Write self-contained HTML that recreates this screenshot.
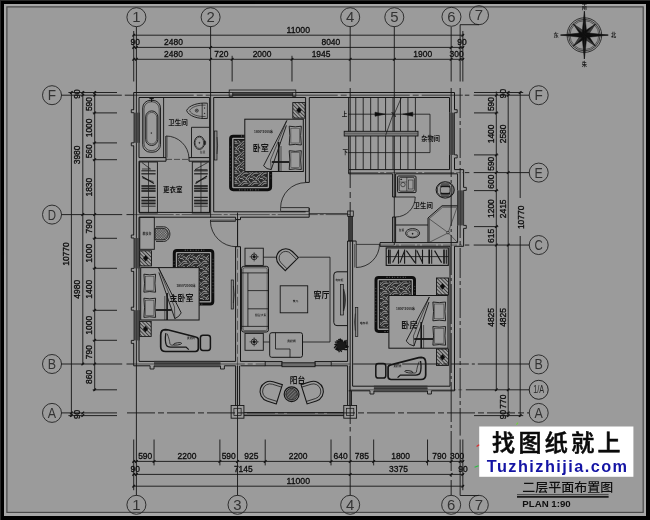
<!DOCTYPE html>
<html><head><meta charset="utf-8"><title>二层平面布置图</title>
<style>
html,body{margin:0;padding:0;background:#9b9b9b;overflow:hidden}
svg{display:block;will-change:transform;opacity:0.9999;font-family:"Liberation Sans","Noto Sans CJK SC",sans-serif}
</style></head><body>
<svg width="650" height="520" viewBox="0 0 650 520">
<rect x="0" y="0" width="650" height="520" fill="#9b9b9b"/>
<path d="M0 0H650V520H0Z M4 4V516H646V4Z" fill="#000" stroke="none" stroke-width="0" fill-rule="evenodd"/>
<path d="M0 0H650V520H0Z M1 1V520H650V1Z" fill="#2b2b2b" stroke="none" stroke-width="0" fill-rule="evenodd"/>
<path d="M4 4H646V516H4Z M6.3 6.3V512.2H643.2V6.3Z" fill="#a8a8a8" stroke="none" stroke-width="0" fill-rule="evenodd"/>
<rect x="6.9" y="6.9" width="636.3" height="505.5" fill="none" stroke="#4a4a4a" stroke-width="1.2"/>
<line x1="132.71" y1="35.2" x2="463.83" y2="35.2" stroke="#151515" stroke-width="0.9"/>
<line x1="132.71" y1="47.4" x2="463.83" y2="47.4" stroke="#151515" stroke-width="0.9"/>
<line x1="132.71" y1="59.3" x2="463.83" y2="59.3" stroke="#151515" stroke-width="0.9"/>
<line x1="132.41" y1="36.5" x2="135.01" y2="33.9" stroke="#151515" stroke-width="1.3"/>
<line x1="132.41" y1="48.7" x2="135.01" y2="46.1" stroke="#151515" stroke-width="1.3"/>
<line x1="461.53" y1="36.5" x2="464.13" y2="33.9" stroke="#151515" stroke-width="1.3"/>
<line x1="461.53" y1="48.7" x2="464.13" y2="46.1" stroke="#151515" stroke-width="1.3"/>
<line x1="135.1" y1="48.7" x2="137.7" y2="46.1" stroke="#151515" stroke-width="1.3"/>
<line x1="209.3" y1="48.7" x2="211.9" y2="46.1" stroke="#151515" stroke-width="1.3"/>
<line x1="449.86" y1="48.7" x2="452.46" y2="46.1" stroke="#151515" stroke-width="1.3"/>
<line x1="458.83" y1="48.7" x2="461.43" y2="46.1" stroke="#151515" stroke-width="1.3"/>
<line x1="135.1" y1="60.6" x2="137.7" y2="58" stroke="#151515" stroke-width="1.3"/>
<line x1="209.3" y1="60.6" x2="211.9" y2="58" stroke="#151515" stroke-width="1.3"/>
<line x1="230.84" y1="60.6" x2="233.44" y2="58" stroke="#151515" stroke-width="1.3"/>
<line x1="290.68" y1="60.6" x2="293.28" y2="58" stroke="#151515" stroke-width="1.3"/>
<line x1="348.88" y1="60.6" x2="351.48" y2="58" stroke="#151515" stroke-width="1.3"/>
<line x1="393.01" y1="60.6" x2="395.61" y2="58" stroke="#151515" stroke-width="1.3"/>
<line x1="449.86" y1="60.6" x2="452.46" y2="58" stroke="#151515" stroke-width="1.3"/>
<line x1="458.83" y1="60.6" x2="461.43" y2="58" stroke="#151515" stroke-width="1.3"/>
<line x1="132.41" y1="60.6" x2="135.01" y2="58" stroke="#151515" stroke-width="1.3"/>
<line x1="461.53" y1="60.6" x2="464.13" y2="58" stroke="#151515" stroke-width="1.3"/>
<text stroke="#0c0c0c" stroke-width="0.32" x="298.27" y="32.8" font-size="9.7" text-anchor="middle" fill="#0c0c0c" textLength="23.5" lengthAdjust="spacingAndGlyphs">11000</text>
<text stroke="#0c0c0c" stroke-width="0.32" x="135.21" y="45" font-size="9.7" text-anchor="middle" fill="#0c0c0c" textLength="9.4" lengthAdjust="spacingAndGlyphs">90</text>
<text stroke="#0c0c0c" stroke-width="0.32" x="173.5" y="45" font-size="9.7" text-anchor="middle" fill="#0c0c0c" textLength="18.8" lengthAdjust="spacingAndGlyphs">2480</text>
<text stroke="#0c0c0c" stroke-width="0.32" x="330.88" y="45" font-size="9.7" text-anchor="middle" fill="#0c0c0c" textLength="18.8" lengthAdjust="spacingAndGlyphs">8040</text>
<text stroke="#0c0c0c" stroke-width="0.32" x="462.03" y="44.8" font-size="9.7" text-anchor="middle" fill="#0c0c0c" textLength="9.4" lengthAdjust="spacingAndGlyphs">90</text>
<text stroke="#0c0c0c" stroke-width="0.32" x="173.5" y="56.9" font-size="9.7" text-anchor="middle" fill="#0c0c0c" textLength="18.8" lengthAdjust="spacingAndGlyphs">2480</text>
<text stroke="#0c0c0c" stroke-width="0.32" x="221.37" y="56.9" font-size="9.7" text-anchor="middle" fill="#0c0c0c" textLength="14.1" lengthAdjust="spacingAndGlyphs">720</text>
<text stroke="#0c0c0c" stroke-width="0.32" x="262.06" y="56.9" font-size="9.7" text-anchor="middle" fill="#0c0c0c" textLength="18.8" lengthAdjust="spacingAndGlyphs">2000</text>
<text stroke="#0c0c0c" stroke-width="0.32" x="321.08" y="56.9" font-size="9.7" text-anchor="middle" fill="#0c0c0c" textLength="18.8" lengthAdjust="spacingAndGlyphs">1945</text>
<text stroke="#0c0c0c" stroke-width="0.32" x="422.73" y="56.9" font-size="9.7" text-anchor="middle" fill="#0c0c0c" textLength="18.8" lengthAdjust="spacingAndGlyphs">1900</text>
<text stroke="#0c0c0c" stroke-width="0.32" x="456.56" y="56.9" font-size="9.7" text-anchor="middle" fill="#0c0c0c" textLength="14.1" lengthAdjust="spacingAndGlyphs">300</text>
<line x1="232.14" y1="55.8" x2="232.14" y2="81.5" stroke="#151515" stroke-width="0.9"/>
<line x1="291.98" y1="55.8" x2="291.98" y2="81.5" stroke="#151515" stroke-width="0.9"/>
<line x1="133.71" y1="31" x2="133.71" y2="81.5" stroke="#151515" stroke-width="0.9"/>
<line x1="462.83" y1="31" x2="462.83" y2="81.5" stroke="#151515" stroke-width="0.9"/>
<line x1="132.71" y1="461.4" x2="463.83" y2="461.4" stroke="#151515" stroke-width="0.9"/>
<line x1="132.71" y1="474.4" x2="463.83" y2="474.4" stroke="#151515" stroke-width="0.9"/>
<line x1="132.71" y1="486.2" x2="463.83" y2="486.2" stroke="#151515" stroke-width="0.9"/>
<line x1="135.1" y1="462.7" x2="137.7" y2="460.1" stroke="#151515" stroke-width="1.3"/>
<line x1="152.75" y1="462.7" x2="155.35" y2="460.1" stroke="#151515" stroke-width="1.3"/>
<line x1="218.58" y1="462.7" x2="221.18" y2="460.1" stroke="#151515" stroke-width="1.3"/>
<line x1="236.23" y1="462.7" x2="238.83" y2="460.1" stroke="#151515" stroke-width="1.3"/>
<line x1="263.91" y1="462.7" x2="266.51" y2="460.1" stroke="#151515" stroke-width="1.3"/>
<line x1="329.73" y1="462.7" x2="332.33" y2="460.1" stroke="#151515" stroke-width="1.3"/>
<line x1="348.88" y1="462.7" x2="351.48" y2="460.1" stroke="#151515" stroke-width="1.3"/>
<line x1="372.37" y1="462.7" x2="374.97" y2="460.1" stroke="#151515" stroke-width="1.3"/>
<line x1="426.22" y1="462.7" x2="428.82" y2="460.1" stroke="#151515" stroke-width="1.3"/>
<line x1="449.86" y1="462.7" x2="452.46" y2="460.1" stroke="#151515" stroke-width="1.3"/>
<line x1="458.83" y1="462.7" x2="461.43" y2="460.1" stroke="#151515" stroke-width="1.3"/>
<line x1="132.41" y1="475.7" x2="135.01" y2="473.1" stroke="#151515" stroke-width="1.3"/>
<line x1="135.1" y1="475.7" x2="137.7" y2="473.1" stroke="#151515" stroke-width="1.3"/>
<line x1="348.88" y1="475.7" x2="351.48" y2="473.1" stroke="#151515" stroke-width="1.3"/>
<line x1="449.86" y1="475.7" x2="452.46" y2="473.1" stroke="#151515" stroke-width="1.3"/>
<line x1="461.53" y1="475.7" x2="464.13" y2="473.1" stroke="#151515" stroke-width="1.3"/>
<line x1="132.41" y1="462.7" x2="135.01" y2="460.1" stroke="#151515" stroke-width="1.3"/>
<line x1="132.41" y1="487.5" x2="135.01" y2="484.9" stroke="#151515" stroke-width="1.3"/>
<line x1="461.53" y1="462.7" x2="464.13" y2="460.1" stroke="#151515" stroke-width="1.3"/>
<line x1="461.53" y1="487.5" x2="464.13" y2="484.9" stroke="#151515" stroke-width="1.3"/>
<text stroke="#0c0c0c" stroke-width="0.32" x="145.23" y="459.2" font-size="9.7" text-anchor="middle" fill="#0c0c0c" textLength="14.1" lengthAdjust="spacingAndGlyphs">590</text>
<text stroke="#0c0c0c" stroke-width="0.32" x="186.96" y="459.2" font-size="9.7" text-anchor="middle" fill="#0c0c0c" textLength="18.8" lengthAdjust="spacingAndGlyphs">2200</text>
<text stroke="#0c0c0c" stroke-width="0.32" x="228.7" y="459.2" font-size="9.7" text-anchor="middle" fill="#0c0c0c" textLength="14.1" lengthAdjust="spacingAndGlyphs">590</text>
<text stroke="#0c0c0c" stroke-width="0.32" x="251.37" y="459.2" font-size="9.7" text-anchor="middle" fill="#0c0c0c" textLength="14.1" lengthAdjust="spacingAndGlyphs">925</text>
<text stroke="#0c0c0c" stroke-width="0.32" x="298.12" y="459.2" font-size="9.7" text-anchor="middle" fill="#0c0c0c" textLength="18.8" lengthAdjust="spacingAndGlyphs">2200</text>
<text stroke="#0c0c0c" stroke-width="0.32" x="340.6" y="459.2" font-size="9.7" text-anchor="middle" fill="#0c0c0c" textLength="14.1" lengthAdjust="spacingAndGlyphs">640</text>
<text stroke="#0c0c0c" stroke-width="0.32" x="361.92" y="459.2" font-size="9.7" text-anchor="middle" fill="#0c0c0c" textLength="14.1" lengthAdjust="spacingAndGlyphs">785</text>
<text stroke="#0c0c0c" stroke-width="0.32" x="400.59" y="459.2" font-size="9.7" text-anchor="middle" fill="#0c0c0c" textLength="18.8" lengthAdjust="spacingAndGlyphs">1800</text>
<text stroke="#0c0c0c" stroke-width="0.32" x="439.34" y="459.2" font-size="9.7" text-anchor="middle" fill="#0c0c0c" textLength="14.1" lengthAdjust="spacingAndGlyphs">790</text>
<text stroke="#0c0c0c" stroke-width="0.32" x="457.15" y="459.2" font-size="9.7" text-anchor="middle" fill="#0c0c0c" textLength="14.1" lengthAdjust="spacingAndGlyphs">300</text>
<line x1="154.05" y1="439.5" x2="154.05" y2="465.4" stroke="#151515" stroke-width="0.9"/>
<line x1="219.88" y1="439.5" x2="219.88" y2="465.4" stroke="#151515" stroke-width="0.9"/>
<line x1="265.21" y1="439.5" x2="265.21" y2="465.4" stroke="#151515" stroke-width="0.9"/>
<line x1="331.03" y1="439.5" x2="331.03" y2="465.4" stroke="#151515" stroke-width="0.9"/>
<line x1="373.67" y1="439.5" x2="373.67" y2="465.4" stroke="#151515" stroke-width="0.9"/>
<line x1="427.52" y1="439.5" x2="427.52" y2="465.4" stroke="#151515" stroke-width="0.9"/>
<line x1="133.71" y1="439.5" x2="133.71" y2="490.2" stroke="#151515" stroke-width="0.9"/>
<line x1="462.83" y1="439.5" x2="462.83" y2="490.2" stroke="#151515" stroke-width="0.9"/>
<text stroke="#0c0c0c" stroke-width="0.32" x="135.21" y="472" font-size="9.7" text-anchor="middle" fill="#0c0c0c" textLength="9.4" lengthAdjust="spacingAndGlyphs">90</text>
<text stroke="#0c0c0c" stroke-width="0.32" x="243.29" y="472" font-size="9.7" text-anchor="middle" fill="#0c0c0c" textLength="18.8" lengthAdjust="spacingAndGlyphs">7145</text>
<text stroke="#0c0c0c" stroke-width="0.32" x="398.47" y="472" font-size="9.7" text-anchor="middle" fill="#0c0c0c" textLength="18.8" lengthAdjust="spacingAndGlyphs">3375</text>
<text stroke="#0c0c0c" stroke-width="0.32" x="298.27" y="483.8" font-size="9.7" text-anchor="middle" fill="#0c0c0c" textLength="23.5" lengthAdjust="spacingAndGlyphs">11000</text>
<text stroke="#0c0c0c" stroke-width="0.32" x="463.03" y="472.2" font-size="9.7" text-anchor="middle" fill="#0c0c0c" textLength="9.4" lengthAdjust="spacingAndGlyphs">90</text>
<line x1="71.4" y1="91.5" x2="71.4" y2="416.6" stroke="#151515" stroke-width="0.9"/>
<line x1="82.8" y1="91.5" x2="82.8" y2="365" stroke="#151515" stroke-width="0.9"/>
<line x1="94.7" y1="91.5" x2="94.7" y2="390.8" stroke="#151515" stroke-width="0.9"/>
<line x1="93.4" y1="96.5" x2="96" y2="93.9" stroke="#151515" stroke-width="1.3"/>
<line x1="93.4" y1="114.2" x2="96" y2="111.6" stroke="#151515" stroke-width="1.3"/>
<line x1="93.4" y1="144.2" x2="96" y2="141.6" stroke="#151515" stroke-width="1.3"/>
<line x1="93.4" y1="161" x2="96" y2="158.4" stroke="#151515" stroke-width="1.3"/>
<line x1="93.4" y1="215.9" x2="96" y2="213.3" stroke="#151515" stroke-width="1.3"/>
<line x1="93.4" y1="239.6" x2="96" y2="237" stroke="#151515" stroke-width="1.3"/>
<line x1="93.4" y1="269.6" x2="96" y2="267" stroke="#151515" stroke-width="1.3"/>
<line x1="93.4" y1="311.6" x2="96" y2="309" stroke="#151515" stroke-width="1.3"/>
<line x1="93.4" y1="341.6" x2="96" y2="339" stroke="#151515" stroke-width="1.3"/>
<line x1="93.4" y1="365.3" x2="96" y2="362.7" stroke="#151515" stroke-width="1.3"/>
<line x1="93.4" y1="391.1" x2="96" y2="388.5" stroke="#151515" stroke-width="1.3"/>
<line x1="81.5" y1="93.8" x2="84.1" y2="91.2" stroke="#151515" stroke-width="1.3"/>
<line x1="81.5" y1="96.5" x2="84.1" y2="93.9" stroke="#151515" stroke-width="1.3"/>
<line x1="81.5" y1="215.9" x2="84.1" y2="213.3" stroke="#151515" stroke-width="1.3"/>
<line x1="81.5" y1="365.3" x2="84.1" y2="362.7" stroke="#151515" stroke-width="1.3"/>
<line x1="70.1" y1="93.8" x2="72.7" y2="91.2" stroke="#151515" stroke-width="1.3"/>
<line x1="70.1" y1="414.2" x2="72.7" y2="411.6" stroke="#151515" stroke-width="1.3"/>
<line x1="70.1" y1="416.9" x2="72.7" y2="414.3" stroke="#151515" stroke-width="1.3"/>
<line x1="81.5" y1="414.2" x2="84.1" y2="411.6" stroke="#151515" stroke-width="1.3"/>
<line x1="81.5" y1="416.9" x2="84.1" y2="414.3" stroke="#151515" stroke-width="1.3"/>
<line x1="93.4" y1="93.8" x2="96" y2="91.2" stroke="#151515" stroke-width="1.3"/>
<text stroke="#0c0c0c" stroke-width="0.32" x="92.3" y="104.05" font-size="9.7" text-anchor="middle" fill="#0c0c0c" transform="rotate(-90 92.3 104.05)" textLength="14.1" lengthAdjust="spacingAndGlyphs">590</text>
<text stroke="#0c0c0c" stroke-width="0.32" x="92.3" y="127.9" font-size="9.7" text-anchor="middle" fill="#0c0c0c" transform="rotate(-90 92.3 127.9)" textLength="18.8" lengthAdjust="spacingAndGlyphs">1000</text>
<text stroke="#0c0c0c" stroke-width="0.32" x="92.3" y="151.3" font-size="9.7" text-anchor="middle" fill="#0c0c0c" transform="rotate(-90 92.3 151.3)" textLength="14.1" lengthAdjust="spacingAndGlyphs">560</text>
<text stroke="#0c0c0c" stroke-width="0.32" x="92.3" y="187.15" font-size="9.7" text-anchor="middle" fill="#0c0c0c" transform="rotate(-90 92.3 187.15)" textLength="18.8" lengthAdjust="spacingAndGlyphs">1830</text>
<text stroke="#0c0c0c" stroke-width="0.32" x="92.3" y="226.45" font-size="9.7" text-anchor="middle" fill="#0c0c0c" transform="rotate(-90 92.3 226.45)" textLength="14.1" lengthAdjust="spacingAndGlyphs">790</text>
<text stroke="#0c0c0c" stroke-width="0.32" x="92.3" y="253.3" font-size="9.7" text-anchor="middle" fill="#0c0c0c" transform="rotate(-90 92.3 253.3)" textLength="18.8" lengthAdjust="spacingAndGlyphs">1000</text>
<text stroke="#0c0c0c" stroke-width="0.32" x="92.3" y="289.3" font-size="9.7" text-anchor="middle" fill="#0c0c0c" transform="rotate(-90 92.3 289.3)" textLength="18.8" lengthAdjust="spacingAndGlyphs">1400</text>
<text stroke="#0c0c0c" stroke-width="0.32" x="92.3" y="325.3" font-size="9.7" text-anchor="middle" fill="#0c0c0c" transform="rotate(-90 92.3 325.3)" textLength="18.8" lengthAdjust="spacingAndGlyphs">1000</text>
<text stroke="#0c0c0c" stroke-width="0.32" x="92.3" y="352.15" font-size="9.7" text-anchor="middle" fill="#0c0c0c" transform="rotate(-90 92.3 352.15)" textLength="14.1" lengthAdjust="spacingAndGlyphs">790</text>
<text stroke="#0c0c0c" stroke-width="0.32" x="92.3" y="376.9" font-size="9.7" text-anchor="middle" fill="#0c0c0c" transform="rotate(-90 92.3 376.9)" textLength="14.1" lengthAdjust="spacingAndGlyphs">860</text>
<line x1="92.7" y1="112.9" x2="117" y2="112.9" stroke="#151515" stroke-width="0.9"/>
<line x1="92.7" y1="142.9" x2="117" y2="142.9" stroke="#151515" stroke-width="0.9"/>
<line x1="92.7" y1="159.7" x2="117" y2="159.7" stroke="#151515" stroke-width="0.9"/>
<line x1="92.7" y1="238.3" x2="117" y2="238.3" stroke="#151515" stroke-width="0.9"/>
<line x1="92.7" y1="268.3" x2="117" y2="268.3" stroke="#151515" stroke-width="0.9"/>
<line x1="92.7" y1="310.3" x2="117" y2="310.3" stroke="#151515" stroke-width="0.9"/>
<line x1="92.7" y1="340.3" x2="117" y2="340.3" stroke="#151515" stroke-width="0.9"/>
<line x1="92.7" y1="389.8" x2="117" y2="389.8" stroke="#151515" stroke-width="0.9"/>
<text stroke="#0c0c0c" stroke-width="0.32" x="80.4" y="154.9" font-size="9.7" text-anchor="middle" fill="#0c0c0c" transform="rotate(-90 80.4 154.9)" textLength="18.8" lengthAdjust="spacingAndGlyphs">3980</text>
<text stroke="#0c0c0c" stroke-width="0.32" x="80.4" y="289.3" font-size="9.7" text-anchor="middle" fill="#0c0c0c" transform="rotate(-90 80.4 289.3)" textLength="18.8" lengthAdjust="spacingAndGlyphs">4980</text>
<text stroke="#0c0c0c" stroke-width="0.32" x="69" y="254.05" font-size="9.7" text-anchor="middle" fill="#0c0c0c" transform="rotate(-90 69 254.05)" textLength="23.5" lengthAdjust="spacingAndGlyphs">10770</text>
<text stroke="#0c0c0c" stroke-width="0.32" x="80.2" y="94" font-size="9.7" text-anchor="middle" fill="#0c0c0c" transform="rotate(-90 80.2 94)" textLength="9.4" lengthAdjust="spacingAndGlyphs">90</text>
<text stroke="#0c0c0c" stroke-width="0.32" x="80.2" y="414.4" font-size="9.7" text-anchor="middle" fill="#0c0c0c" transform="rotate(-90 80.2 414.4)" textLength="9.4" lengthAdjust="spacingAndGlyphs">90</text>
<line x1="68.4" y1="92.5" x2="117" y2="92.5" stroke="#151515" stroke-width="0.9"/>
<line x1="68.4" y1="415.6" x2="117" y2="415.6" stroke="#151515" stroke-width="0.9"/>
<line x1="496.3" y1="91.5" x2="496.3" y2="390.8" stroke="#151515" stroke-width="0.9"/>
<line x1="508.2" y1="91.5" x2="508.2" y2="416.6" stroke="#151515" stroke-width="0.9"/>
<line x1="520.2" y1="91.5" x2="520.2" y2="198" stroke="#151515" stroke-width="0.9"/>
<line x1="520.2" y1="236" x2="520.2" y2="416.6" stroke="#151515" stroke-width="0.9"/>
<line x1="495" y1="96.5" x2="497.6" y2="93.9" stroke="#151515" stroke-width="1.3"/>
<line x1="495" y1="114.2" x2="497.6" y2="111.6" stroke="#151515" stroke-width="1.3"/>
<line x1="495" y1="156.2" x2="497.6" y2="153.6" stroke="#151515" stroke-width="1.3"/>
<line x1="495" y1="173.9" x2="497.6" y2="171.3" stroke="#151515" stroke-width="1.3"/>
<line x1="495" y1="191.9" x2="497.6" y2="189.3" stroke="#151515" stroke-width="1.3"/>
<line x1="495" y1="227.9" x2="497.6" y2="225.3" stroke="#151515" stroke-width="1.3"/>
<line x1="495" y1="246.35" x2="497.6" y2="243.75" stroke="#151515" stroke-width="1.3"/>
<line x1="495" y1="391.1" x2="497.6" y2="388.5" stroke="#151515" stroke-width="1.3"/>
<line x1="506.9" y1="93.8" x2="509.5" y2="91.2" stroke="#151515" stroke-width="1.3"/>
<line x1="506.9" y1="96.5" x2="509.5" y2="93.9" stroke="#151515" stroke-width="1.3"/>
<line x1="506.9" y1="173.9" x2="509.5" y2="171.3" stroke="#151515" stroke-width="1.3"/>
<line x1="506.9" y1="246.35" x2="509.5" y2="243.75" stroke="#151515" stroke-width="1.3"/>
<line x1="506.9" y1="391.1" x2="509.5" y2="388.5" stroke="#151515" stroke-width="1.3"/>
<line x1="506.9" y1="414.2" x2="509.5" y2="411.6" stroke="#151515" stroke-width="1.3"/>
<line x1="506.9" y1="416.9" x2="509.5" y2="414.3" stroke="#151515" stroke-width="1.3"/>
<line x1="518.9" y1="93.8" x2="521.5" y2="91.2" stroke="#151515" stroke-width="1.3"/>
<line x1="518.9" y1="416.9" x2="521.5" y2="414.3" stroke="#151515" stroke-width="1.3"/>
<text stroke="#0c0c0c" stroke-width="0.32" x="493.9" y="104.05" font-size="9.7" text-anchor="middle" fill="#0c0c0c" transform="rotate(-90 493.9 104.05)" textLength="14.1" lengthAdjust="spacingAndGlyphs">590</text>
<text stroke="#0c0c0c" stroke-width="0.32" x="493.9" y="133.9" font-size="9.7" text-anchor="middle" fill="#0c0c0c" transform="rotate(-90 493.9 133.9)" textLength="18.8" lengthAdjust="spacingAndGlyphs">1400</text>
<text stroke="#0c0c0c" stroke-width="0.32" x="493.9" y="163.75" font-size="9.7" text-anchor="middle" fill="#0c0c0c" transform="rotate(-90 493.9 163.75)" textLength="14.1" lengthAdjust="spacingAndGlyphs">590</text>
<text stroke="#0c0c0c" stroke-width="0.32" x="493.9" y="181.6" font-size="9.7" text-anchor="middle" fill="#0c0c0c" transform="rotate(-90 493.9 181.6)" textLength="14.1" lengthAdjust="spacingAndGlyphs">600</text>
<text stroke="#0c0c0c" stroke-width="0.32" x="493.9" y="208.6" font-size="9.7" text-anchor="middle" fill="#0c0c0c" transform="rotate(-90 493.9 208.6)" textLength="18.8" lengthAdjust="spacingAndGlyphs">1200</text>
<text stroke="#0c0c0c" stroke-width="0.32" x="493.9" y="235.82" font-size="9.7" text-anchor="middle" fill="#0c0c0c" transform="rotate(-90 493.9 235.82)" textLength="14.1" lengthAdjust="spacingAndGlyphs">615</text>
<text stroke="#0c0c0c" stroke-width="0.32" x="493.9" y="317.42" font-size="9.7" text-anchor="middle" fill="#0c0c0c" transform="rotate(-90 493.9 317.42)" textLength="18.8" lengthAdjust="spacingAndGlyphs">4825</text>
<line x1="474" y1="112.9" x2="498.3" y2="112.9" stroke="#151515" stroke-width="0.9"/>
<line x1="474" y1="154.9" x2="498.3" y2="154.9" stroke="#151515" stroke-width="0.9"/>
<line x1="474" y1="190.6" x2="498.3" y2="190.6" stroke="#151515" stroke-width="0.9"/>
<line x1="474" y1="226.6" x2="498.3" y2="226.6" stroke="#151515" stroke-width="0.9"/>
<text stroke="#0c0c0c" stroke-width="0.32" x="505.8" y="133.9" font-size="9.7" text-anchor="middle" fill="#0c0c0c" transform="rotate(-90 505.8 133.9)" textLength="18.8" lengthAdjust="spacingAndGlyphs">2580</text>
<text stroke="#0c0c0c" stroke-width="0.32" x="505.8" y="208.82" font-size="9.7" text-anchor="middle" fill="#0c0c0c" transform="rotate(-90 505.8 208.82)" textLength="18.8" lengthAdjust="spacingAndGlyphs">2415</text>
<text stroke="#0c0c0c" stroke-width="0.32" x="505.8" y="317.42" font-size="9.7" text-anchor="middle" fill="#0c0c0c" transform="rotate(-90 505.8 317.42)" textLength="18.8" lengthAdjust="spacingAndGlyphs">4825</text>
<text stroke="#0c0c0c" stroke-width="0.32" x="523.6" y="217.32" font-size="9.7" text-anchor="middle" fill="#0c0c0c" transform="rotate(-90 523.6 217.32)" textLength="23.5" lengthAdjust="spacingAndGlyphs">10770</text>
<text stroke="#0c0c0c" stroke-width="0.32" x="505.6" y="93.5" font-size="9.7" text-anchor="middle" fill="#0c0c0c" transform="rotate(-90 505.6 93.5)" textLength="9.4" lengthAdjust="spacingAndGlyphs">90</text>
<text stroke="#0c0c0c" stroke-width="0.32" x="506" y="401.65" font-size="9.7" text-anchor="middle" fill="#0c0c0c" transform="rotate(-90 506 401.65)" textLength="14.1" lengthAdjust="spacingAndGlyphs">770</text>
<text stroke="#0c0c0c" stroke-width="0.32" x="506" y="414.5" font-size="9.7" text-anchor="middle" fill="#0c0c0c" transform="rotate(-90 506 414.5)" textLength="9.4" lengthAdjust="spacingAndGlyphs">90</text>
<line x1="474" y1="92.5" x2="523.2" y2="92.5" stroke="#151515" stroke-width="0.9"/>
<line x1="474" y1="415.6" x2="523.2" y2="415.6" stroke="#151515" stroke-width="0.9"/>
<circle cx="136.4" cy="17.2" r="9.5" fill="none" stroke="#222" stroke-width="0.9"/>
<text x="136.4" y="22.17" font-size="14" text-anchor="middle" fill="#333" textLength="8.3" lengthAdjust="spacingAndGlyphs">1</text>
<circle cx="210.6" cy="17.2" r="9.5" fill="none" stroke="#222" stroke-width="0.9"/>
<text x="210.6" y="22.17" font-size="14" text-anchor="middle" fill="#333" textLength="8.3" lengthAdjust="spacingAndGlyphs">2</text>
<circle cx="350.18" cy="17.2" r="9.5" fill="none" stroke="#222" stroke-width="0.9"/>
<text x="350.18" y="22.17" font-size="14" text-anchor="middle" fill="#333" textLength="8.3" lengthAdjust="spacingAndGlyphs">4</text>
<circle cx="394.31" cy="17.2" r="9.5" fill="none" stroke="#222" stroke-width="0.9"/>
<text x="394.31" y="22.17" font-size="14" text-anchor="middle" fill="#333" textLength="8.3" lengthAdjust="spacingAndGlyphs">5</text>
<circle cx="451.46" cy="16.8" r="9.5" fill="none" stroke="#222" stroke-width="0.9"/>
<text x="451.46" y="21.77" font-size="14" text-anchor="middle" fill="#333" textLength="8.3" lengthAdjust="spacingAndGlyphs">6</text>
<circle cx="479" cy="15.2" r="9.5" fill="none" stroke="#222" stroke-width="0.9"/>
<text x="479" y="20.17" font-size="14" text-anchor="middle" fill="#333" textLength="8.3" lengthAdjust="spacingAndGlyphs">7</text>
<circle cx="136.4" cy="504.8" r="9.5" fill="none" stroke="#222" stroke-width="0.9"/>
<text x="136.4" y="509.77" font-size="14" text-anchor="middle" fill="#333" textLength="8.3" lengthAdjust="spacingAndGlyphs">1</text>
<circle cx="237.53" cy="504.8" r="9.5" fill="none" stroke="#222" stroke-width="0.9"/>
<text x="237.53" y="509.77" font-size="14" text-anchor="middle" fill="#333" textLength="8.3" lengthAdjust="spacingAndGlyphs">3</text>
<circle cx="350.18" cy="504.8" r="9.5" fill="none" stroke="#222" stroke-width="0.9"/>
<text x="350.18" y="509.77" font-size="14" text-anchor="middle" fill="#333" textLength="8.3" lengthAdjust="spacingAndGlyphs">4</text>
<circle cx="451.16" cy="504.8" r="9.5" fill="none" stroke="#222" stroke-width="0.9"/>
<text x="451.16" y="509.77" font-size="14" text-anchor="middle" fill="#333" textLength="8.3" lengthAdjust="spacingAndGlyphs">6</text>
<circle cx="478.8" cy="504.8" r="9.5" fill="none" stroke="#222" stroke-width="0.9"/>
<text x="478.8" y="509.77" font-size="14" text-anchor="middle" fill="#333" textLength="8.3" lengthAdjust="spacingAndGlyphs">7</text>
<circle cx="52" cy="95.2" r="9.5" fill="none" stroke="#222" stroke-width="0.9"/>
<text x="52" y="100.17" font-size="14" text-anchor="middle" fill="#333" textLength="8.3" lengthAdjust="spacingAndGlyphs">F</text>
<circle cx="52" cy="214.6" r="9.5" fill="none" stroke="#222" stroke-width="0.9"/>
<text x="52" y="219.57" font-size="14" text-anchor="middle" fill="#333" textLength="8.3" lengthAdjust="spacingAndGlyphs">D</text>
<circle cx="52" cy="364" r="9.5" fill="none" stroke="#222" stroke-width="0.9"/>
<text x="52" y="368.97" font-size="14" text-anchor="middle" fill="#333" textLength="8.3" lengthAdjust="spacingAndGlyphs">B</text>
<circle cx="52" cy="412.9" r="9.5" fill="none" stroke="#222" stroke-width="0.9"/>
<text x="52" y="417.87" font-size="14" text-anchor="middle" fill="#333" textLength="8.3" lengthAdjust="spacingAndGlyphs">A</text>
<circle cx="538.7" cy="95.2" r="9.5" fill="none" stroke="#222" stroke-width="0.9"/>
<text x="538.7" y="100.17" font-size="14" text-anchor="middle" fill="#333" textLength="8.3" lengthAdjust="spacingAndGlyphs">F</text>
<circle cx="538.7" cy="172.6" r="9.5" fill="none" stroke="#222" stroke-width="0.9"/>
<text x="538.7" y="177.57" font-size="14" text-anchor="middle" fill="#333" textLength="8.3" lengthAdjust="spacingAndGlyphs">E</text>
<circle cx="538.7" cy="245.05" r="9.5" fill="none" stroke="#222" stroke-width="0.9"/>
<text x="538.7" y="250.02" font-size="14" text-anchor="middle" fill="#333" textLength="8.3" lengthAdjust="spacingAndGlyphs">C</text>
<circle cx="538.7" cy="364.4" r="9.5" fill="none" stroke="#222" stroke-width="0.9"/>
<text x="538.7" y="369.37" font-size="14" text-anchor="middle" fill="#333" textLength="8.3" lengthAdjust="spacingAndGlyphs">B</text>
<circle cx="538.7" cy="412.9" r="9.5" fill="none" stroke="#222" stroke-width="0.9"/>
<text x="538.7" y="417.87" font-size="14" text-anchor="middle" fill="#333" textLength="8.3" lengthAdjust="spacingAndGlyphs">A</text>
<circle cx="538.7" cy="389.8" r="9.5" fill="none" stroke="#151515" stroke-width="0.9"/>
<text x="538.7" y="393.4" font-size="10" text-anchor="middle" fill="#2a2a2a" textLength="11" lengthAdjust="spacingAndGlyphs">1/A</text>
<line x1="136.4" y1="26.7" x2="136.4" y2="495.5" stroke="#151515" stroke-width="0.9"/>
<line x1="210.6" y1="26.5" x2="210.6" y2="217.6" stroke="#151515" stroke-width="0.9"/>
<line x1="237.53" y1="495.5" x2="237.53" y2="365.8" stroke="#151515" stroke-width="0.9"/>
<line x1="237.53" y1="365.8" x2="237.53" y2="246.7" stroke="#151515" stroke-width="0.9" stroke-dasharray="9 3" stroke-opacity="0.55"/>
<line x1="237.53" y1="246.7" x2="237.53" y2="212.6" stroke="#151515" stroke-width="0.9"/>
<line x1="350.18" y1="26.5" x2="350.18" y2="81.5" stroke="#151515" stroke-width="0.9"/>
<line x1="350.18" y1="88" x2="350.18" y2="211" stroke="#151515" stroke-width="0.9" stroke-dasharray="100 4 6 4"/>
<line x1="350.18" y1="211" x2="350.18" y2="424" stroke="#151515" stroke-width="0.9"/>
<line x1="350.18" y1="427" x2="350.18" y2="431.5" stroke="#151515" stroke-width="0.9"/>
<line x1="350.18" y1="436" x2="350.18" y2="495.5" stroke="#151515" stroke-width="0.9"/>
<line x1="394.31" y1="26.5" x2="394.31" y2="245.05" stroke="#151515" stroke-width="0.9"/>
<line x1="451.16" y1="26.9" x2="451.16" y2="81.5" stroke="#151515" stroke-width="0.9"/>
<line x1="451.16" y1="88" x2="451.16" y2="495.5" stroke="#151515" stroke-width="0.9" stroke-dasharray="40 3 3 3"/>
<path d="M479 24.7 L460.13 24.7 L460.13 81.5" fill="none" stroke="#151515" stroke-width="0.9" />
<line x1="460.13" y1="88" x2="460.13" y2="435.6" stroke="#151515" stroke-width="0.9" stroke-dasharray="30 3 4 3"/>
<path d="M478.8 495.5 L460.13 495.5 L460.13 439.5" fill="none" stroke="#151515" stroke-width="0.9" />
<line x1="61.3" y1="95.2" x2="121.8" y2="95.2" stroke="#151515" stroke-width="0.9"/>
<line x1="124.8" y1="95.2" x2="133.71" y2="95.2" stroke="#151515" stroke-width="0.9"/>
<line x1="133.71" y1="95.2" x2="462.83" y2="95.2" stroke="#151515" stroke-width="0.9" stroke-dasharray="60 3 6 3" stroke-opacity="0.8"/>
<line x1="464.83" y1="95.2" x2="469.33" y2="95.2" stroke="#151515" stroke-width="0.9"/>
<line x1="473.7" y1="95.2" x2="529.4" y2="95.2" stroke="#151515" stroke-width="0.9"/>
<line x1="61.3" y1="214.6" x2="122.2" y2="214.6" stroke="#151515" stroke-width="0.9"/>
<line x1="126.5" y1="214.6" x2="133.71" y2="214.6" stroke="#151515" stroke-width="0.9"/>
<line x1="133.71" y1="214.6" x2="350.18" y2="214.6" stroke="#151515" stroke-width="0.9" stroke-dasharray="40 2 4 2" stroke-opacity="0.6"/>
<line x1="61.3" y1="364" x2="122.2" y2="364" stroke="#151515" stroke-width="0.9"/>
<line x1="126.5" y1="364" x2="133.71" y2="364" stroke="#151515" stroke-width="0.9"/>
<line x1="133.71" y1="364" x2="350.18" y2="364" stroke="#151515" stroke-width="0.9" stroke-dasharray="50 3 5 3" stroke-opacity="0.6"/>
<line x1="353.18" y1="364" x2="462.83" y2="364" stroke="#151515" stroke-width="0.9" stroke-dasharray="38 3 5 3"/>
<line x1="462.83" y1="364" x2="529.4" y2="364" stroke="#151515" stroke-width="0.9" stroke-dasharray="6 3 3 3 60 0"/>
<line x1="61.3" y1="412.9" x2="117" y2="412.9" stroke="#151515" stroke-width="0.9"/>
<line x1="127" y1="412.9" x2="529.4" y2="412.9" stroke="#151515" stroke-width="0.9" stroke-dasharray="28 3 6 3"/>
<line x1="348.18" y1="172.6" x2="462.83" y2="172.6" stroke="#151515" stroke-width="0.9" stroke-dasharray="30 2 4 2" stroke-opacity="0.55"/>
<line x1="464.83" y1="172.6" x2="469.33" y2="172.6" stroke="#151515" stroke-width="0.9"/>
<line x1="473.7" y1="172.6" x2="529.4" y2="172.6" stroke="#151515" stroke-width="0.9"/>
<line x1="380" y1="245.05" x2="462.83" y2="245.05" stroke="#151515" stroke-width="0.9" stroke-dasharray="14 2 3 2" stroke-opacity="0.5"/>
<line x1="464.83" y1="245.05" x2="469.33" y2="245.05" stroke="#151515" stroke-width="0.9"/>
<line x1="473.7" y1="245.05" x2="529.4" y2="245.05" stroke="#151515" stroke-width="0.9"/>
<line x1="350.18" y1="389.8" x2="462.83" y2="389.8" stroke="#151515" stroke-width="0.9" stroke-dasharray="30 2 4 2" stroke-opacity="0.5"/>
<line x1="465.83" y1="389.8" x2="529.4" y2="389.8" stroke="#151515" stroke-width="0.9"/>
<line x1="133.71" y1="92.5" x2="229.2" y2="92.5" stroke="#151515" stroke-width="1"/>
<line x1="295.8" y1="92.5" x2="454.5" y2="92.5" stroke="#151515" stroke-width="1"/>
<line x1="139" y1="97.5" x2="209.6" y2="97.5" stroke="#151515" stroke-width="1"/>
<line x1="213.7" y1="97.5" x2="305.6" y2="97.5" stroke="#151515" stroke-width="1"/>
<line x1="309.3" y1="97.5" x2="449.5" y2="97.5" stroke="#151515" stroke-width="1"/>
<rect x="229.2" y="90" width="66.6" height="2.5" fill="none" stroke="#151515" stroke-width="0.8"/>
<rect x="232.7" y="93.2" width="60" height="3" fill="#333"/>
<line x1="232.7" y1="92.5" x2="232.7" y2="96.5" stroke="#151515" stroke-width="0.8"/>
<line x1="292.7" y1="92.5" x2="292.7" y2="96.5" stroke="#151515" stroke-width="0.8"/>
<line x1="229.2" y1="92.5" x2="229.2" y2="96.4" stroke="#151515" stroke-width="0.8"/>
<line x1="295.8" y1="92.5" x2="295.8" y2="96.4" stroke="#151515" stroke-width="0.8"/>
<line x1="229.2" y1="96.4" x2="232.7" y2="96.4" stroke="#151515" stroke-width="0.8"/>
<line x1="292.7" y1="96.4" x2="295.8" y2="96.4" stroke="#151515" stroke-width="0.8"/>
<line x1="133.71" y1="92.5" x2="133.71" y2="109.7" stroke="#151515" stroke-width="1"/>
<line x1="133.71" y1="145.8" x2="133.71" y2="235" stroke="#151515" stroke-width="1"/>
<line x1="133.71" y1="271.4" x2="133.71" y2="307.2" stroke="#151515" stroke-width="1"/>
<line x1="133.71" y1="343.4" x2="133.71" y2="365.8" stroke="#151515" stroke-width="1"/>
<line x1="139" y1="97.5" x2="139" y2="157.6" stroke="#151515" stroke-width="1"/>
<line x1="139" y1="161.2" x2="139" y2="212.4" stroke="#151515" stroke-width="1"/>
<line x1="139" y1="217.2" x2="139" y2="361.4" stroke="#151515" stroke-width="1"/>
<rect x="134.01" y="112.7" width="5.29" height="30.1" fill="#4e4e4e"/>
<line x1="136.65" y1="112.7" x2="136.65" y2="142.8" stroke="#2e2e2e" stroke-width="0.7"/>
<line x1="134.01" y1="112.7" x2="134.01" y2="142.8" stroke="#2a2a2a" stroke-width="0.9"/>
<line x1="139.3" y1="112.7" x2="139.3" y2="142.8" stroke="#2a2a2a" stroke-width="0.9"/>
<path d="M134.01 109.7 L131.31 109.7 L131.31 112.7 L134.01 112.7" fill="none" stroke="#151515" stroke-width="0.9" />
<path d="M134.01 142.8 L131.31 142.8 L131.31 145.8 L134.01 145.8" fill="none" stroke="#151515" stroke-width="0.9" />
<rect x="134.01" y="238" width="5.29" height="30.4" fill="#4e4e4e"/>
<line x1="136.65" y1="238" x2="136.65" y2="268.4" stroke="#2e2e2e" stroke-width="0.7"/>
<line x1="134.01" y1="238" x2="134.01" y2="268.4" stroke="#2a2a2a" stroke-width="0.9"/>
<line x1="139.3" y1="238" x2="139.3" y2="268.4" stroke="#2a2a2a" stroke-width="0.9"/>
<path d="M134.01 235 L131.31 235 L131.31 238 L134.01 238" fill="none" stroke="#151515" stroke-width="0.9" />
<path d="M134.01 268.4 L131.31 268.4 L131.31 271.4 L134.01 271.4" fill="none" stroke="#151515" stroke-width="0.9" />
<rect x="134.01" y="310.2" width="5.29" height="30.2" fill="#4e4e4e"/>
<line x1="136.65" y1="310.2" x2="136.65" y2="340.4" stroke="#2e2e2e" stroke-width="0.7"/>
<line x1="134.01" y1="310.2" x2="134.01" y2="340.4" stroke="#2a2a2a" stroke-width="0.9"/>
<line x1="139.3" y1="310.2" x2="139.3" y2="340.4" stroke="#2a2a2a" stroke-width="0.9"/>
<path d="M134.01 307.2 L131.31 307.2 L131.31 310.2 L134.01 310.2" fill="none" stroke="#151515" stroke-width="0.9" />
<path d="M134.01 340.4 L131.31 340.4 L131.31 343.4 L134.01 343.4" fill="none" stroke="#151515" stroke-width="0.9" />
<line x1="139" y1="361.4" x2="235.6" y2="361.4" stroke="#151515" stroke-width="1"/>
<line x1="133.71" y1="365.8" x2="150.1" y2="365.8" stroke="#151515" stroke-width="1"/>
<line x1="224.4" y1="365.8" x2="235.6" y2="365.8" stroke="#151515" stroke-width="1"/>
<rect x="154" y="361.4" width="66.5" height="5.3" fill="#4e4e4e"/>
<line x1="154" y1="363.6" x2="220.5" y2="363.6" stroke="#2e2e2e" stroke-width="0.7"/>
<line x1="154" y1="361.4" x2="220.5" y2="361.4" stroke="#2a2a2a" stroke-width="0.9"/>
<line x1="154" y1="366.7" x2="220.5" y2="366.7" stroke="#2a2a2a" stroke-width="0.9"/>
<path d="M150.1 365.8 L150.1 369 L154 369 L154 365.8" fill="none" stroke="#151515" stroke-width="0.9" />
<path d="M220.5 365.8 L220.5 369 L224.4 369 L224.4 365.8" fill="none" stroke="#151515" stroke-width="0.9" />
<line x1="139" y1="157.6" x2="166" y2="157.6" stroke="#151515" stroke-width="1"/>
<line x1="139" y1="161.2" x2="166" y2="161.2" stroke="#151515" stroke-width="1"/>
<line x1="166" y1="157.6" x2="166" y2="161.2" stroke="#151515" stroke-width="1"/>
<line x1="189" y1="157.6" x2="209.6" y2="157.6" stroke="#151515" stroke-width="1"/>
<line x1="189" y1="161.2" x2="209.6" y2="161.2" stroke="#151515" stroke-width="1"/>
<line x1="189" y1="157.6" x2="189" y2="161.2" stroke="#151515" stroke-width="1"/>
<line x1="166" y1="159.4" x2="189" y2="159.4" stroke="#151515" stroke-width="0.6" stroke-dasharray="6 2"/>
<line x1="209.6" y1="97.5" x2="209.6" y2="212.4" stroke="#151515" stroke-width="1"/>
<line x1="213.7" y1="97.5" x2="213.7" y2="211.8" stroke="#151515" stroke-width="1"/>
<line x1="139" y1="212.4" x2="209.6" y2="212.4" stroke="#151515" stroke-width="1"/>
<line x1="213.7" y1="211.8" x2="305.6" y2="211.8" stroke="#151515" stroke-width="1"/>
<line x1="139" y1="217.2" x2="235.6" y2="217.2" stroke="#151515" stroke-width="1"/>
<line x1="240.5" y1="217.2" x2="309.2" y2="217.2" stroke="#151515" stroke-width="1"/>
<line x1="235.6" y1="217.2" x2="235.6" y2="219.6" stroke="#151515" stroke-width="1"/>
<line x1="240.5" y1="217.2" x2="240.5" y2="219.6" stroke="#151515" stroke-width="1"/>
<line x1="235.6" y1="219.6" x2="240.5" y2="219.6" stroke="#151515" stroke-width="1"/>
<line x1="235.6" y1="246.7" x2="235.6" y2="361.4" stroke="#151515" stroke-width="1"/>
<line x1="240.5" y1="246.7" x2="240.5" y2="361.4" stroke="#151515" stroke-width="1"/>
<line x1="235.6" y1="246.7" x2="240.5" y2="246.7" stroke="#151515" stroke-width="1"/>
<line x1="305.6" y1="97.5" x2="305.6" y2="182.4" stroke="#151515" stroke-width="1"/>
<line x1="309.3" y1="97.5" x2="309.3" y2="182.4" stroke="#151515" stroke-width="1"/>
<line x1="305.6" y1="182.4" x2="309.3" y2="182.4" stroke="#151515" stroke-width="1"/>
<rect x="280.6" y="207.6" width="28.6" height="3.8" fill="none" stroke="#151515" stroke-width="0.8" rx="0.8"/>
<line x1="309.2" y1="207.8" x2="309.2" y2="217.2" stroke="#151515" stroke-width="1"/>
<path d="M280.6 207.8 A25.2 25.2 0 0 1 305.8 182.6" fill="none" stroke="#151515" stroke-width="0.8" />
<rect x="210.4" y="220.1" width="25.2" height="1.5" fill="none" stroke="#151515" stroke-width="0.7"/>
<path d="M210.4 221.4 A26 26 0 0 0 236.6 246.7" fill="none" stroke="#151515" stroke-width="0.8" />
<line x1="237.6" y1="219.6" x2="237.6" y2="246.7" stroke="#151515" stroke-width="0.7"/>
<line x1="165.8" y1="136" x2="165.8" y2="157.6" stroke="#151515" stroke-width="0.9"/>
<line x1="167" y1="136" x2="167" y2="157.6" stroke="#151515" stroke-width="0.6"/>
<path d="M166 136 A23 23 0 0 1 189 158" fill="none" stroke="#151515" stroke-width="0.8" />
<line x1="454.5" y1="92.5" x2="454.5" y2="109.7" stroke="#151515" stroke-width="1"/>
<line x1="449.5" y1="97.5" x2="449.5" y2="112.7" stroke="#151515" stroke-width="1"/>
<rect x="449.5" y="112.7" width="5" height="42.2" fill="#4e4e4e"/>
<line x1="452" y1="112.7" x2="452" y2="154.9" stroke="#2e2e2e" stroke-width="0.7"/>
<line x1="449.5" y1="112.7" x2="449.5" y2="154.9" stroke="#2a2a2a" stroke-width="0.9"/>
<line x1="454.5" y1="112.7" x2="454.5" y2="154.9" stroke="#2a2a2a" stroke-width="0.9"/>
<path d="M454.5 109.7 L457.2 109.7 L457.2 112.7 L454.5 112.7" fill="none" stroke="#151515" stroke-width="0.9" />
<path d="M454.5 154.9 L457.2 154.9 L457.2 157.9 L454.5 157.9" fill="none" stroke="#151515" stroke-width="0.9" />
<line x1="449.5" y1="154.9" x2="449.5" y2="169.6" stroke="#151515" stroke-width="1"/>
<line x1="454.5" y1="157.9" x2="454.5" y2="169.6" stroke="#151515" stroke-width="1"/>
<line x1="348.7" y1="169.6" x2="449.5" y2="169.6" stroke="#151515" stroke-width="1"/>
<line x1="454.5" y1="169.6" x2="463.6" y2="169.6" stroke="#151515" stroke-width="1"/>
<line x1="348.7" y1="173.8" x2="392.6" y2="173.8" stroke="#151515" stroke-width="1"/>
<line x1="395.6" y1="173.8" x2="457.6" y2="173.8" stroke="#151515" stroke-width="1"/>
<line x1="348.7" y1="169.6" x2="348.7" y2="173.8" stroke="#151515" stroke-width="1"/>
<line x1="463.6" y1="169.6" x2="463.6" y2="187.4" stroke="#151515" stroke-width="1"/>
<line x1="457.6" y1="173.8" x2="457.6" y2="190.4" stroke="#151515" stroke-width="1"/>
<rect x="457.6" y="190.4" width="6" height="35" fill="#4e4e4e"/>
<line x1="460.6" y1="190.4" x2="460.6" y2="225.4" stroke="#2e2e2e" stroke-width="0.7"/>
<line x1="457.6" y1="190.4" x2="457.6" y2="225.4" stroke="#2a2a2a" stroke-width="0.9"/>
<line x1="463.6" y1="190.4" x2="463.6" y2="225.4" stroke="#2a2a2a" stroke-width="0.9"/>
<path d="M463.6 187.4 L466.3 187.4 L466.3 190.4 L463.6 190.4" fill="none" stroke="#151515" stroke-width="0.9" />
<path d="M463.6 225.4 L466.3 225.4 L466.3 228.4 L463.6 228.4" fill="none" stroke="#151515" stroke-width="0.9" />
<line x1="463.6" y1="228.4" x2="463.6" y2="246.3" stroke="#151515" stroke-width="1"/>
<line x1="457.6" y1="225.4" x2="457.6" y2="242.6" stroke="#151515" stroke-width="1"/>
<line x1="392.6" y1="242.6" x2="457.6" y2="242.6" stroke="#151515" stroke-width="1"/>
<line x1="380" y1="246.3" x2="450" y2="246.3" stroke="#151515" stroke-width="1"/>
<line x1="454.5" y1="246.3" x2="463.6" y2="246.3" stroke="#151515" stroke-width="1"/>
<line x1="380" y1="242.6" x2="392.6" y2="242.6" stroke="#151515" stroke-width="1"/>
<line x1="380" y1="242.6" x2="380" y2="246.3" stroke="#151515" stroke-width="1"/>
<line x1="392.6" y1="173.8" x2="392.6" y2="197" stroke="#151515" stroke-width="1"/>
<line x1="395.6" y1="173.8" x2="395.6" y2="197" stroke="#151515" stroke-width="1"/>
<line x1="392.6" y1="197" x2="395.6" y2="197" stroke="#151515" stroke-width="1"/>
<line x1="392.6" y1="217" x2="392.6" y2="242.6" stroke="#151515" stroke-width="1"/>
<line x1="395.6" y1="217" x2="395.6" y2="242.6" stroke="#151515" stroke-width="1"/>
<line x1="392.6" y1="217" x2="395.6" y2="217" stroke="#151515" stroke-width="1"/>
<line x1="395.6" y1="197" x2="415.2" y2="197" stroke="#151515" stroke-width="0.8"/>
<path d="M415.2 197 A19.8 19.8 0 0 1 395.6 217" fill="none" stroke="#151515" stroke-width="0.8" />
<line x1="450" y1="246.3" x2="450" y2="386.2" stroke="#151515" stroke-width="1"/>
<line x1="454.5" y1="246.3" x2="454.5" y2="390.8" stroke="#151515" stroke-width="1"/>
<line x1="352.6" y1="386.2" x2="450" y2="386.2" stroke="#151515" stroke-width="1"/>
<line x1="348.7" y1="390.8" x2="370" y2="390.8" stroke="#151515" stroke-width="1"/>
<line x1="431.4" y1="390.8" x2="454.5" y2="390.8" stroke="#151515" stroke-width="1"/>
<rect x="373.9" y="386.2" width="53.6" height="5.5" fill="#4e4e4e"/>
<line x1="373.9" y1="388.5" x2="427.5" y2="388.5" stroke="#2e2e2e" stroke-width="0.7"/>
<line x1="373.9" y1="386.2" x2="427.5" y2="386.2" stroke="#2a2a2a" stroke-width="0.9"/>
<line x1="373.9" y1="391.7" x2="427.5" y2="391.7" stroke="#2a2a2a" stroke-width="0.9"/>
<path d="M370 390.8 L370 394 L373.9 394 L373.9 390.8" fill="none" stroke="#151515" stroke-width="0.9" />
<path d="M427.5 390.8 L427.5 394 L431.4 394 L431.4 390.8" fill="none" stroke="#151515" stroke-width="0.9" />
<rect x="347.7" y="211" width="5.6" height="5.3" fill="none" stroke="#151515" stroke-width="0.8"/>
<rect x="348.6" y="216.3" width="4.1" height="24.7" fill="#3a3a3a" stroke="#151515" stroke-width="0.6"/>
<line x1="347.6" y1="241" x2="347.6" y2="361.4" stroke="#151515" stroke-width="1"/>
<line x1="352.6" y1="241" x2="352.6" y2="386.2" stroke="#151515" stroke-width="1"/>
<line x1="347.6" y1="241" x2="352.6" y2="241" stroke="#151515" stroke-width="1"/>
<line x1="352.6" y1="241" x2="356.2" y2="241" stroke="#151515" stroke-width="1"/>
<line x1="356.2" y1="241" x2="356.2" y2="267.5" stroke="#151515" stroke-width="0.8"/>
<line x1="354.6" y1="244" x2="354.6" y2="267.5" stroke="#151515" stroke-width="0.5"/>
<path d="M356.2 267.5 A23.3 23.3 0 0 0 379.5 244.4" fill="none" stroke="#151515" stroke-width="0.8" />
<line x1="356.2" y1="244.4" x2="380" y2="244.4" stroke="#151515" stroke-width="0.7"/>
<line x1="308.9" y1="213.6" x2="347.6" y2="213.6" stroke="#151515" stroke-width="0.7"/>
<line x1="348.7" y1="97.5" x2="348.7" y2="169.6" stroke="#151515" stroke-width="1"/>
<line x1="240.5" y1="361.4" x2="265.2" y2="361.4" stroke="#151515" stroke-width="1"/>
<line x1="240.5" y1="365.8" x2="265.2" y2="365.8" stroke="#151515" stroke-width="1"/>
<line x1="331.2" y1="361.4" x2="347.6" y2="361.4" stroke="#151515" stroke-width="1"/>
<line x1="331.2" y1="365.8" x2="347.6" y2="365.8" stroke="#151515" stroke-width="1"/>
<rect x="265.2" y="361.5" width="16.8" height="4.3" fill="#858585" stroke="#151515" stroke-width="0.9"/>
<rect x="315" y="361.5" width="16.2" height="4.3" fill="#858585" stroke="#151515" stroke-width="0.9"/>
<rect x="282" y="362.8" width="33" height="3.9" fill="#6c6c6c" stroke="#151515" stroke-width="0.9"/>
<line x1="235.6" y1="365.8" x2="235.6" y2="405.6" stroke="#151515" stroke-width="1"/>
<line x1="237.4" y1="365.8" x2="237.4" y2="405.6" stroke="#151515" stroke-width="0.6"/>
<line x1="239.6" y1="365.8" x2="239.6" y2="405.6" stroke="#151515" stroke-width="1"/>
<line x1="347.6" y1="365.8" x2="347.6" y2="405.6" stroke="#151515" stroke-width="1"/>
<line x1="349.6" y1="365.8" x2="349.6" y2="405.6" stroke="#151515" stroke-width="0.6"/>
<line x1="351.4" y1="390.8" x2="351.4" y2="405.6" stroke="#151515" stroke-width="1"/>
<rect x="231.13" y="405.5" width="12.8" height="12.7" fill="none" stroke="#151515" stroke-width="0.9"/>
<rect x="233.93" y="408.3" width="7.2" height="7.1" fill="none" stroke="#151515" stroke-width="0.7"/>
<rect x="343.78" y="405.5" width="12.8" height="12.7" fill="none" stroke="#151515" stroke-width="0.9"/>
<rect x="346.58" y="408.3" width="7.2" height="7.1" fill="none" stroke="#151515" stroke-width="0.7"/>
<line x1="243.93" y1="412.6" x2="343.78" y2="412.6" stroke="#151515" stroke-width="1"/>
<line x1="243.93" y1="414.2" x2="343.78" y2="414.2" stroke="#151515" stroke-width="0.5"/>
<line x1="243.93" y1="415.6" x2="343.78" y2="415.6" stroke="#151515" stroke-width="1"/>
<line x1="163.6" y1="97.5" x2="163.6" y2="157.6" stroke="#151515" stroke-width="0.9"/>
<rect x="142.7" y="100.4" width="17.8" height="51.8" fill="none" stroke="#151515" stroke-width="0.9" rx="7.5"/>
<rect x="144" y="101.8" width="15.2" height="48.8" fill="none" stroke="#151515" stroke-width="0.6" rx="7"/>
<rect x="145.7" y="110.9" width="12.1" height="34.6" fill="none" stroke="#151515" stroke-width="0.9" rx="6"/>
<rect x="146.8" y="112.4" width="9.9" height="31.6" fill="none" stroke="#151515" stroke-width="0.5" rx="5"/>
<circle cx="151.3" cy="133" r="0.5" fill="#151515" stroke="#151515" stroke-width="0.3"/>
<line x1="151.6" y1="97.5" x2="151.6" y2="102" stroke="#151515" stroke-width="1.1"/>
<line x1="149.4" y1="98.6" x2="153.8" y2="98.6" stroke="#151515" stroke-width="1.1"/>
<path d="M207.4 103.2 C198 102.4 188.6 105.4 186.6 110.6 C188.6 116 198 119.2 207.4 118.4" fill="none" stroke="#151515" stroke-width="0.9" />
<path d="M205.6 105.2 C198.6 104.6 191.2 107 189.6 110.7 C191.2 114.6 198.6 117 205.6 116.4" fill="none" stroke="#151515" stroke-width="0.6" />
<line x1="202.2" y1="103.2" x2="202.2" y2="118.6" stroke="#151515" stroke-width="0.7"/>
<line x1="207.4" y1="103.2" x2="207.4" y2="118.6" stroke="#151515" stroke-width="0.7"/>
<circle cx="196.8" cy="110.6" r="1.5" fill="none" stroke="#151515" stroke-width="0.7"/>
<circle cx="196.8" cy="110.6" r="0.5" fill="#151515" stroke="#151515" stroke-width="0.2"/>
<circle cx="204.6" cy="108" r="0.5" fill="#151515" stroke="#151515" stroke-width="0.2"/>
<circle cx="204.6" cy="113.4" r="0.5" fill="#151515" stroke="#151515" stroke-width="0.2"/>
<path d="M209.6 127.3 L191.5 127.3 L191.5 157.6" fill="none" stroke="#151515" stroke-width="0.9" />
<ellipse cx="199.4" cy="142.8" rx="5.1" ry="6.6" fill="none" stroke="#151515" stroke-width="0.9"/>
<ellipse cx="199.4" cy="142.8" rx="4.2" ry="5.6" fill="none" stroke="#151515" stroke-width="0.5"/>
<circle cx="199.4" cy="142.8" r="0.6" fill="#151515" stroke="#151515" stroke-width="0.3"/>
<ellipse cx="204.8" cy="142.8" rx="1" ry="2.2" fill="#222" stroke="#151515" stroke-width="0.3"/>
<text x="202.5" y="153.2" font-size="2.8" text-anchor="middle" fill="#222">台盆</text>
<text x="178" y="125.4" font-size="6.6" text-anchor="middle" fill="#141414" textLength="19.6" lengthAdjust="spacingAndGlyphs" font-weight="bold">卫生间</text>
<rect x="139.6" y="162" width="17.8" height="51" fill="none" stroke="#151515" stroke-width="0.9"/>
<line x1="148.5" y1="162" x2="148.5" y2="213" stroke="#151515" stroke-width="0.7"/>
<line x1="141.4" y1="170.8" x2="155.6" y2="170.8" stroke="#222" stroke-width="1.1"/>
<line x1="141.4" y1="173.8" x2="155.6" y2="173.8" stroke="#222" stroke-width="1.3"/>
<line x1="141.4" y1="186" x2="155.6" y2="186" stroke="#222" stroke-width="1.7"/>
<line x1="141.4" y1="188.5" x2="155.6" y2="188.5" stroke="#222" stroke-width="1.7"/>
<line x1="141.4" y1="191" x2="155.6" y2="191" stroke="#222" stroke-width="1.7"/>
<line x1="141.4" y1="197.4" x2="155.6" y2="197.4" stroke="#222" stroke-width="1.2"/>
<line x1="141.4" y1="200.6" x2="155.6" y2="200.6" stroke="#222" stroke-width="1.8"/>
<line x1="141.4" y1="203.4" x2="155.6" y2="203.4" stroke="#222" stroke-width="1.8"/>
<line x1="141.4" y1="206.2" x2="155.6" y2="206.2" stroke="#222" stroke-width="0.9"/>
<path d="M142 162.6 L150.5 169 L142 169" fill="none" stroke="#151515" stroke-width="0.7" />
<line x1="142" y1="176.5" x2="154" y2="183.5" stroke="#151515" stroke-width="1.2"/>
<line x1="142.5" y1="178.2" x2="153.5" y2="181.6" stroke="#151515" stroke-width="0.6"/>
<rect x="192.3" y="162" width="17.3" height="51" fill="none" stroke="#151515" stroke-width="0.9"/>
<line x1="200.95" y1="162" x2="200.95" y2="213" stroke="#151515" stroke-width="0.7"/>
<line x1="194.1" y1="170.8" x2="207.8" y2="170.8" stroke="#222" stroke-width="1.1"/>
<line x1="194.1" y1="173.8" x2="207.8" y2="173.8" stroke="#222" stroke-width="1.3"/>
<line x1="194.1" y1="186" x2="207.8" y2="186" stroke="#222" stroke-width="1.7"/>
<line x1="194.1" y1="188.5" x2="207.8" y2="188.5" stroke="#222" stroke-width="1.7"/>
<line x1="194.1" y1="191" x2="207.8" y2="191" stroke="#222" stroke-width="1.7"/>
<line x1="194.1" y1="197.4" x2="207.8" y2="197.4" stroke="#222" stroke-width="1.2"/>
<line x1="194.1" y1="200.6" x2="207.8" y2="200.6" stroke="#222" stroke-width="1.8"/>
<line x1="194.1" y1="203.4" x2="207.8" y2="203.4" stroke="#222" stroke-width="1.8"/>
<line x1="194.1" y1="206.2" x2="207.8" y2="206.2" stroke="#222" stroke-width="0.9"/>
<path d="M207.5 162.6 L195 169.6 L207.5 169.6" fill="none" stroke="#151515" stroke-width="0.7" />
<line x1="207" y1="176" x2="195.5" y2="183.5" stroke="#151515" stroke-width="1.2"/>
<line x1="206.5" y1="178" x2="196" y2="181.8" stroke="#151515" stroke-width="0.6"/>
<text x="172.8" y="192.4" font-size="6.6" text-anchor="middle" fill="#141414" textLength="19.4" lengthAdjust="spacingAndGlyphs" font-weight="bold">更衣室</text>
<defs>
<pattern id="sw" width="10" height="10" patternUnits="userSpaceOnUse">
<rect width="10" height="10" fill="#2c2c2c"/>
<path d="M0.5 4.5 C2 1.5 4.5 0.8 6.5 1.6 M1.5 6 C3 3.4 5.4 2.6 7.4 3.2 M6 9.5 C6.6 7 8 5.4 10 4.8 M7.6 10 C8 8.4 9 7.4 10 7 M0 8.6 C1.4 8 2.6 8.4 3.6 9.6 M3 7 C4.2 6.4 5 6.8 5.6 7.8 M8 0 C8.4 1 9.2 1.6 10 1.8" fill="none" stroke="#aaaaaa" stroke-width="0.9" stroke-linecap="round"/>
<path d="M2.6 2.2 C3.4 1.2 4.4 0.6 5.4 0.4 M8.4 3.4 C9 2.8 9.6 2.6 10 2.6 M0 2.6 C0.4 2.6 0.8 2.8 1 3" fill="none" stroke="#8a8a8a" stroke-width="0.7"/>
</pattern>
<pattern id="hat" width="2.6" height="2.6" patternUnits="userSpaceOnUse" patternTransform="rotate(-45)">
<line x1="0" y1="0" x2="0" y2="2.6" stroke="#1a1a1a" stroke-width="1.3"/>
</pattern>
<pattern id="hat2" width="2.4" height="2.4" patternUnits="userSpaceOnUse" patternTransform="rotate(45)">
<rect width="2.4" height="2.4" fill="#4a4a4a"/><line x1="0" y1="0" x2="0" y2="2.4" stroke="#9a9a9a" stroke-width="0.9"/>
</pattern>
<pattern id="xh" width="1.8" height="1.8" patternUnits="userSpaceOnUse" patternTransform="rotate(45)">
<path d="M0 0V1.8M0 0H1.8" stroke="#222" stroke-width="0.7" fill="none"/>
</pattern>
</defs>
<rect x="230.6" y="136.2" width="40" height="53.5" fill="none" stroke="#0e0e0e" stroke-width="3" rx="2.6"/>
<line x1="241.1" y1="136" x2="262.1" y2="136" stroke="#7a7a7a" stroke-width="1" stroke-dasharray="1 1.6 0.6 2.2"/>
<line x1="239.1" y1="189.9" x2="260.1" y2="189.9" stroke="#7a7a7a" stroke-width="1" stroke-dasharray="1 1.6 0.6 2.2"/>
<line x1="230.4" y1="146.7" x2="230.4" y2="181.2" stroke="#6a6a6a" stroke-width="0.8" stroke-dasharray="0.7 2.6"/>
<line x1="270.8" y1="144.7" x2="270.8" y2="179.2" stroke="#6a6a6a" stroke-width="0.8" stroke-dasharray="0.7 2.6"/>
<rect x="234" y="139.6" width="33.2" height="46.7" fill="url(#sw)" stroke="#101010" stroke-width="1"/>
<rect x="292.8" y="102.6" width="12.3" height="15.5" fill="url(#hat)" stroke="#151515" stroke-width="0.9"/>
<path d="M298.95 107.35 L301.45 110.35 L298.95 113.35 L296.45 110.35 Z" fill="#0a0a0a" stroke="#151515" stroke-width="0.4" />
<rect x="244.8" y="119.2" width="58.5" height="52.3" fill="#9b9b9b" stroke="#151515" stroke-width="1"/>
<path d="M289.2 126.2 Q295.25 127.5 301.3 126.2 Q300 135.6 301.3 145 Q295.25 143.7 289.2 145 Q290.5 135.6 289.2 126.2 Z" fill="none" stroke="#151515" stroke-width="0.9" />
<rect x="290.9" y="128.2" width="8.7" height="14.8" fill="none" stroke="#333" stroke-width="0.5"/>
<path d="M289.2 150.7 Q295.25 152 301.3 150.7 Q300 160.1 301.3 169.5 Q295.25 168.2 289.2 169.5 Q290.5 160.1 289.2 150.7 Z" fill="none" stroke="#151515" stroke-width="0.9" />
<rect x="290.9" y="152.7" width="8.7" height="14.8" fill="none" stroke="#333" stroke-width="0.5"/>
<path d="M286.8 120.5 L263.6 165.8 L267 168.6 L271.2 169.6 L286.4 125.4" fill="none" stroke="#151515" stroke-width="0.9" />
<path d="M286.8 120.5 L270.5 160 L271.2 169.6" fill="none" stroke="#151515" stroke-width="0.6" />
<line x1="278.7" y1="142" x2="278.7" y2="171.4" stroke="#151515" stroke-width="1.6"/>
<line x1="281" y1="146" x2="281" y2="171.4" stroke="#151515" stroke-width="0.6"/>
<line x1="271.8" y1="162" x2="289" y2="162" stroke="#151515" stroke-width="1.8"/>
<text x="260.8" y="150.6" font-size="8.2" text-anchor="middle" fill="#141414" textLength="16" lengthAdjust="spacingAndGlyphs" font-weight="bold">卧室</text>
<text x="263.6" y="133" font-size="3" text-anchor="middle" fill="#222" textLength="19" lengthAdjust="spacingAndGlyphs" font-weight="bold">1800*2000床</text>
<rect x="174.3" y="250.4" width="38.5" height="53.6" fill="none" stroke="#0e0e0e" stroke-width="3" rx="2.6"/>
<line x1="184.8" y1="250.2" x2="204.3" y2="250.2" stroke="#7a7a7a" stroke-width="1" stroke-dasharray="1 1.6 0.6 2.2"/>
<line x1="182.8" y1="304.2" x2="202.3" y2="304.2" stroke="#7a7a7a" stroke-width="1" stroke-dasharray="1 1.6 0.6 2.2"/>
<line x1="174.1" y1="260.9" x2="174.1" y2="295.5" stroke="#6a6a6a" stroke-width="0.8" stroke-dasharray="0.7 2.6"/>
<line x1="213" y1="258.9" x2="213" y2="293.5" stroke="#6a6a6a" stroke-width="0.8" stroke-dasharray="0.7 2.6"/>
<rect x="177.7" y="253.8" width="31.7" height="46.8" fill="url(#sw)" stroke="#101010" stroke-width="1"/>
<rect x="139.8" y="217.3" width="14.5" height="32" fill="none" stroke="#151515" stroke-width="0.9"/>
<text x="147" y="234.6" font-size="3" text-anchor="middle" fill="#222" font-weight="bold">梳妆台</text>
<path d="M155 228.4 H163 C170 228.4 170 239.8 163 239.8 H155 Z" fill="url(#xh)" stroke="#151515" stroke-width="0.8" />
<path d="M156 226.8 H163.5 C172 226.8 172 241.4 163.5 241.4 H156" fill="none" stroke="#151515" stroke-width="0.9" />
<rect x="139.8" y="250.8" width="11.7" height="15.1" fill="url(#hat)" stroke="#151515" stroke-width="0.9"/>
<path d="M145.65 255.35 L148.15 258.35 L145.65 261.35 L143.15 258.35 Z" fill="#0a0a0a" stroke="#151515" stroke-width="0.4" />
<rect x="139.8" y="321.4" width="11.4" height="15" fill="url(#hat)" stroke="#151515" stroke-width="0.9"/>
<path d="M145.5 325.9 L148 328.9 L145.5 331.9 L143 328.9 Z" fill="#0a0a0a" stroke="#151515" stroke-width="0.4" />
<rect x="140.7" y="267.6" width="58.4" height="52.4" fill="#9b9b9b" stroke="#151515" stroke-width="1"/>
<path d="M143.9 274.2 Q149.75 275.5 155.6 274.2 Q154.3 283.2 155.6 292.2 Q149.75 290.9 143.9 292.2 Q145.2 283.2 143.9 274.2 Z" fill="none" stroke="#151515" stroke-width="0.9" />
<rect x="145.6" y="276.2" width="8.3" height="14" fill="none" stroke="#333" stroke-width="0.5"/>
<path d="M143.9 298.2 Q149.75 299.5 155.6 298.2 Q154.3 307.8 155.6 317.4 Q149.75 316.1 143.9 317.4 Q145.2 307.8 143.9 298.2 Z" fill="none" stroke="#151515" stroke-width="0.9" />
<rect x="145.6" y="300.2" width="8.3" height="15.2" fill="none" stroke="#333" stroke-width="0.5"/>
<path d="M158.6 267.8 L181.2 312.9 L178.6 316.4 L174.8 318.6 L158.9 272.4" fill="none" stroke="#151515" stroke-width="0.9" />
<path d="M158.6 267.8 L174.5 307 L174.8 318.6" fill="none" stroke="#151515" stroke-width="0.6" />
<line x1="167.1" y1="293" x2="167.1" y2="320" stroke="#151515" stroke-width="1.6"/>
<line x1="164.8" y1="296" x2="164.8" y2="320" stroke="#151515" stroke-width="0.6"/>
<line x1="155.8" y1="310" x2="171.8" y2="310" stroke="#151515" stroke-width="1.8"/>
<text x="181.5" y="301" font-size="8.2" text-anchor="middle" fill="#141414" textLength="24" lengthAdjust="spacingAndGlyphs" font-weight="bold">主卧室</text>
<text x="186" y="286.8" font-size="3" text-anchor="middle" fill="#222" textLength="19" lengthAdjust="spacingAndGlyphs" font-weight="bold">1800*2000床</text>
<g transform="translate(160.7 330.2) scale(0.99 0.99)">
<path d="M4.5 -0.6 C1.2 -0.6 0 1.8 0 5 V17 C0 20 2 21.5 5 21.5 H35 C37 21.5 38 20.6 38 18.6 V9.6 C38 8 37.2 7.3 35.4 6.9 L7 -0.4 Z" fill="none" stroke="#151515" stroke-width="1.7" />
<path d="M5.2 3 C4.4 8 4.6 12 5.6 14.8 C6.2 16.6 8 17 10 17 H25.6 L28.4 19.6" fill="none" stroke="#151515" stroke-width="1.25" />
<path d="M6.6 3.6 C8.2 7.6 9 10.6 9.4 14.2" fill="none" stroke="#151515" stroke-width="0.7" />
<ellipse cx="17" cy="13.8" rx="4.2" ry="1.1" fill="none" stroke="#151515" stroke-width="0.8" transform="rotate(-8 17 13.8)"/>
<path d="M9.6 14.6 C11.5 15.4 13 15.2 14 14.6" fill="none" stroke="#151515" stroke-width="0.7" />
</g>
<rect x="200.4" y="335.2" width="10" height="15.2" fill="none" stroke="#151515" stroke-width="1.5" rx="2.6"/>
<text x="191" y="338.6" font-size="2.6" text-anchor="middle" fill="#222" font-weight="bold">贵妃椅</text>
<rect x="231.2" y="280" width="2.2" height="29" fill="#8a8a8a" stroke="#151515" stroke-width="0.7"/>
<path d="M233.4 286 Q235 294.5 233.4 303" fill="#555" stroke="#151515" stroke-width="0.6" />
<rect x="214.6" y="131" width="2.4" height="29" fill="#8a8a8a" stroke="#151515" stroke-width="0.7"/>
<path d="M217 137 Q218.2 145.5 217 154" fill="#555" stroke="#151515" stroke-width="0.6" />
<rect x="355.3" y="307.6" width="2.5" height="29" fill="#8a8a8a" stroke="#151515" stroke-width="0.7"/>
<path d="M355.3 313.6 Q353.9 322.1 355.3 330.6" fill="#555" stroke="#151515" stroke-width="0.6" />
<text x="364" y="324.4" font-size="2.8" text-anchor="middle" fill="#222" font-weight="bold">电视机</text>
<rect x="245" y="248.2" width="18.3" height="17.2" fill="none" stroke="#151515" stroke-width="0.9"/>
<circle cx="254.15" cy="256.8" r="2.9" fill="none" stroke="#151515" stroke-width="0.8"/>
<circle cx="254.15" cy="256.8" r="1.3" fill="#111" stroke="#151515" stroke-width="0.3"/>
<line x1="249.55" y1="256.8" x2="258.75" y2="256.8" stroke="#151515" stroke-width="0.6"/>
<line x1="254.15" y1="252.2" x2="254.15" y2="261.4" stroke="#151515" stroke-width="0.6"/>
<rect x="245" y="333.4" width="18.3" height="16.9" fill="none" stroke="#151515" stroke-width="0.9"/>
<circle cx="254.15" cy="341.85" r="2.9" fill="none" stroke="#151515" stroke-width="0.8"/>
<circle cx="254.15" cy="341.85" r="1.3" fill="#111" stroke="#151515" stroke-width="0.3"/>
<line x1="249.55" y1="341.85" x2="258.75" y2="341.85" stroke="#151515" stroke-width="0.6"/>
<line x1="254.15" y1="337.25" x2="254.15" y2="346.45" stroke="#151515" stroke-width="0.6"/>
<rect x="241.6" y="266.3" width="26.9" height="65.7" fill="none" stroke="#151515" stroke-width="1" rx="2.2"/>
<rect x="243" y="267.8" width="24.2" height="62.8" fill="none" stroke="#151515" stroke-width="0.5" rx="1.6"/>
<line x1="247.9" y1="272.9" x2="247.9" y2="326.4" stroke="#151515" stroke-width="0.8"/>
<line x1="241.6" y1="272.9" x2="268.5" y2="272.9" stroke="#151515" stroke-width="0.8"/>
<line x1="241.6" y1="326.4" x2="268.5" y2="326.4" stroke="#151515" stroke-width="0.8"/>
<line x1="247.9" y1="290.6" x2="268.5" y2="290.6" stroke="#151515" stroke-width="0.8"/>
<line x1="247.9" y1="308.8" x2="268.5" y2="308.8" stroke="#151515" stroke-width="0.8"/>
<text x="260.6" y="315.6" font-size="2.8" text-anchor="middle" fill="#222" font-weight="bold">组合沙发</text>
<line x1="263.3" y1="257.2" x2="276.4" y2="257.2" stroke="#151515" stroke-width="0.8"/>
<path d="M299.2 257.2 L330 257.2 L330 342 L302.5 342" fill="none" stroke="#151515" stroke-width="0.8" />
<line x1="263.3" y1="342" x2="269.7" y2="342" stroke="#151515" stroke-width="0.8"/>
<g transform="translate(285.5 257.8) rotate(-45)">
<path d="M-9.3 8.9 V0.4 A9.3 9.3 0 0 1 9.3 0.4 V8.9 Z" fill="none" stroke="#151515" stroke-width="1.1" />
<path d="M-6.7 8.9 V0.4 A6.7 6.7 0 0 1 6.7 0.4 V8.9" fill="none" stroke="#151515" stroke-width="0.7" />
</g>
<rect x="280.2" y="285.8" width="27.5" height="27" fill="none" stroke="#151515" stroke-width="0.9"/>
<text x="295.5" y="301.6" font-size="2.8" text-anchor="middle" fill="#222" font-weight="bold">茶几</text>
<text x="321.6" y="298" font-size="8.2" text-anchor="middle" fill="#141414" textLength="16" lengthAdjust="spacingAndGlyphs" font-weight="bold">客厅</text>
<path d="M347.6 271.8 H337 Q333.8 271.8 333.8 275 V322.4 Q333.8 325.6 337 325.6 H347.6" fill="none" stroke="#151515" stroke-width="1" />
<rect x="340.6" y="284.6" width="3" height="30.4" fill="#8a8a8a" stroke="#151515" stroke-width="0.7"/>
<path d="M343.6 289 Q347.4 300 343.6 311 Z" fill="#444" stroke="#151515" stroke-width="0.6" />
<text x="339.4" y="280.6" font-size="2.6" text-anchor="middle" fill="#222" font-weight="bold">电视柜</text>
<path d="M272 332.7 H300.5 Q302.5 332.7 302.5 334.7 V355.3 Q302.5 357.3 300.5 357.3 H271.7 Q269.7 357.3 269.7 355.3 V334.7 Q269.7 332.7 272 332.7 Z" fill="none" stroke="#151515" stroke-width="1" />
<path d="M275.5 332.7 L275.5 349 L290 349 L290 357.3" fill="none" stroke="#151515" stroke-width="0.8" />
<text x="291.5" y="342.4" font-size="2.8" text-anchor="middle" fill="#222" font-weight="bold">贵妃椅</text>
<path d="M341.3 345.8 Q339.09 349.62 341.78 351.76 M341.3 345.8 Q336.86 346.78 336.86 350.3 M341.3 345.8 Q340.71 342.55 337.98 342.62 M341.3 345.8 Q345.24 349.01 348.54 346.37 M341.3 345.8 Q339.04 348.72 340.99 350.8 M341.3 345.8 Q344.86 348.09 347.35 345.64 M341.3 345.8 Q345.17 344.04 344.44 340.86 M341.3 345.8 Q340.96 342.32 338.09 342.16 M341.3 345.8 Q340.66 340.68 336.42 340.56 M341.3 345.8 Q337.73 342.5 334.43 344.84 M341.3 345.8 Q341.65 342.52 339.07 341.86 M341.3 345.8 Q344.04 342.21 341.63 339.68 M341.3 345.8 Q338.73 347.75 339.84 349.95 M341.3 345.8 Q345.42 344.77 345.32 341.49 M341.3 345.8 Q343.34 341.04 339.86 338.9 M341.3 345.8 Q343.23 340.89 339.61 338.82 M341.3 345.8 Q336.31 346.1 335.66 349.96 M341.3 345.8 Q336.16 344.48 334.17 348.26 M341.3 345.8 Q344.63 345.26 344.79 342.64 M341.3 345.8 Q341.72 349.43 344.73 349.54 M341.3 345.8 Q345.16 347.35 347.1 344.58 M341.3 345.8 Q340.63 342.01 337.46 342.07 M341.3 345.8 Q338.07 343.37 335.53 345.55 M341.3 345.8 Q337.05 347.29 337.49 350.72 M341.3 345.8 Q339.06 341.06 334.84 342.21 M341.3 345.8 Q342.21 340.58 338.16 339.26 M341.3 345.8 Q346.49 344.18 346.12 340.01 M341.3 345.8 Q341.67 342.29 338.91 341.59 M341.3 345.8 Q346.48 344.34 346.22 340.19 M341.3 345.8 Q345.76 345.8 346.57 342.38 M341.3 345.8 Q342.62 342.41 340.13 340.99 M341.3 345.8 Q345.31 343.82 344.44 340.51 M341.3 345.8 Q338.89 348.05 340.27 350.17 M341.3 345.8 Q346.46 344.1 346.02 339.94 M341.3 345.8 Q343.31 350.38 347.37 349.38 M341.3 345.8 Q337.8 345.67 337.07 348.33 M341.3 345.8 Q337.52 348.95 339.38 352.23 M341.3 345.8 Q344.49 345.16 344.54 342.64 M341.3 345.8 Q340.49 342.65 337.8 342.89 M341.3 345.8 Q342.83 342.2 340.2 340.59 " fill="none" stroke="#111" stroke-width="1.3" />
<circle cx="341.3" cy="345.8" r="4.6" fill="#1a1a1a" stroke="#151515" stroke-width="0"/>
<text x="297.5" y="382.6" font-size="8" text-anchor="middle" fill="#141414" textLength="15.4" lengthAdjust="spacingAndGlyphs" font-weight="bold">阳台</text>
<g transform="translate(269.9 391.3) rotate(-72.5)">
<path d="M-10.1 9.9 V0.2 A10.1 10.1 0 0 1 10.1 0.2 V9.9 Z" fill="none" stroke="#151515" stroke-width="1.1" />
<path d="M-7.5 9.9 V0.2 A7.5 7.5 0 0 1 7.5 0.2 V9.9" fill="none" stroke="#151515" stroke-width="0.7" />
</g>
<g transform="translate(313.5 391.3) rotate(72.5)">
<path d="M-10.1 9.9 V0.2 A10.1 10.1 0 0 1 10.1 0.2 V9.9 Z" fill="none" stroke="#151515" stroke-width="1.1" />
<path d="M-7.5 9.9 V0.2 A7.5 7.5 0 0 1 7.5 0.2 V9.9" fill="none" stroke="#151515" stroke-width="0.7" />
</g>
<circle cx="291.6" cy="394.2" r="7.4" fill="none" stroke="#151515" stroke-width="1.2"/>
<circle cx="291.6" cy="394.2" r="5.8" fill="url(#hat2)" stroke="#151515" stroke-width="0.8"/>
<line x1="355.76" y1="97.5" x2="355.76" y2="131.3" stroke="#151515" stroke-width="0.85"/>
<line x1="355.76" y1="136" x2="355.76" y2="169.6" stroke="#151515" stroke-width="0.85"/>
<line x1="363.21" y1="97.5" x2="363.21" y2="131.3" stroke="#151515" stroke-width="0.85"/>
<line x1="363.21" y1="136" x2="363.21" y2="169.6" stroke="#151515" stroke-width="0.85"/>
<line x1="370.67" y1="97.5" x2="370.67" y2="131.3" stroke="#151515" stroke-width="0.85"/>
<line x1="370.67" y1="136" x2="370.67" y2="169.6" stroke="#151515" stroke-width="0.85"/>
<line x1="378.12" y1="97.5" x2="378.12" y2="131.3" stroke="#151515" stroke-width="0.85"/>
<line x1="378.12" y1="136" x2="378.12" y2="169.6" stroke="#151515" stroke-width="0.85"/>
<line x1="385.58" y1="97.5" x2="385.58" y2="131.3" stroke="#151515" stroke-width="0.85"/>
<line x1="385.58" y1="136" x2="385.58" y2="169.6" stroke="#151515" stroke-width="0.85"/>
<line x1="393.03" y1="97.5" x2="393.03" y2="131.3" stroke="#151515" stroke-width="0.85"/>
<line x1="393.03" y1="136" x2="393.03" y2="169.6" stroke="#151515" stroke-width="0.85"/>
<line x1="400.49" y1="97.5" x2="400.49" y2="131.3" stroke="#151515" stroke-width="0.85"/>
<line x1="400.49" y1="136" x2="400.49" y2="169.6" stroke="#151515" stroke-width="0.85"/>
<line x1="407.94" y1="97.5" x2="407.94" y2="131.3" stroke="#151515" stroke-width="0.85"/>
<line x1="407.94" y1="136" x2="407.94" y2="169.6" stroke="#151515" stroke-width="0.85"/>
<line x1="415.4" y1="97.5" x2="415.4" y2="131.3" stroke="#151515" stroke-width="0.85"/>
<line x1="415.4" y1="136" x2="415.4" y2="169.6" stroke="#151515" stroke-width="0.85"/>
<rect x="344.2" y="131.3" width="73.8" height="4.7" fill="#7c7c7c" stroke="#151515" stroke-width="0.9"/>
<line x1="344.2" y1="133.6" x2="418" y2="133.6" stroke="#4a4a4a" stroke-width="0.5"/>
<path d="M348.3 114.2 L430 114.2 L430 152.6 L348.3 152.6" fill="none" stroke="#151515" stroke-width="0.8" />
<path d="M375 112.2 L385 114.2 L375 116.2 Z" fill="#0c0c0c" stroke="#151515" stroke-width="0.6" />
<path d="M412.8 112.2 L402.8 114.2 L412.8 116.2 Z" fill="#0c0c0c" stroke="#151515" stroke-width="0.6" />
<path d="M401.2 98 L394.6 113.2 L391.6 112.6 L396 116.4 L392.6 115.6 L385.6 135.4" fill="none" stroke="#151515" stroke-width="0.7" />
<text x="344.6" y="116.4" font-size="5.6" text-anchor="middle" fill="#181818" font-weight="bold">上</text>
<text x="345.4" y="153.8" font-size="5.6" text-anchor="middle" fill="#181818" font-weight="bold">下</text>
<text x="430.6" y="141.4" font-size="6.4" text-anchor="middle" fill="#141414" textLength="18.6" lengthAdjust="spacingAndGlyphs" font-weight="bold">杂物间</text>
<rect x="397.6" y="176" width="18.4" height="16.6" fill="none" stroke="#151515" stroke-width="1" rx="1"/>
<rect x="399.2" y="177.4" width="15.2" height="13.8" fill="none" stroke="#151515" stroke-width="0.7" rx="1.5"/>
<line x1="406.8" y1="177.4" x2="406.8" y2="191.2" stroke="#151515" stroke-width="0.6"/>
<circle cx="403" cy="184.6" r="2.2" fill="none" stroke="#151515" stroke-width="0.6"/>
<rect x="408.4" y="180" width="4.6" height="9" fill="none" stroke="#151515" stroke-width="0.5"/>
<circle cx="401.2" cy="179.4" r="0.7" fill="#151515" stroke="#151515" stroke-width="0.2"/>
<line x1="399.2" y1="182" x2="406.8" y2="182" stroke="#151515" stroke-width="0.4"/>
<ellipse cx="445.2" cy="189.9" rx="9.1" ry="8.2" fill="none" stroke="#151515" stroke-width="1"/>
<path d="M440.6 183.2 L449.8 183.2 L453 187.4 L453 192.4 L449.8 196.6 L440.6 196.6 L437.4 192.4 L437.4 187.4 Z" fill="none" stroke="#151515" stroke-width="0.7" />
<line x1="440.4" y1="186.3" x2="450" y2="186.3" stroke="#151515" stroke-width="1.7"/>
<line x1="440.4" y1="193.7" x2="450" y2="193.7" stroke="#151515" stroke-width="1.7"/>
<rect x="440.4" y="186.3" width="9.6" height="7.4" fill="none" stroke="#151515" stroke-width="0.7" rx="2.4"/>
<line x1="441" y1="184.6" x2="449.4" y2="184.6" stroke="#151515" stroke-width="0.6"/>
<line x1="441" y1="195.3" x2="449.4" y2="195.3" stroke="#151515" stroke-width="0.6"/>
<text x="423.2" y="208.4" font-size="6.6" text-anchor="middle" fill="#141414" textLength="19.2" lengthAdjust="spacingAndGlyphs" font-weight="bold">卫生间</text>
<path d="M428 242.6 L428 218 L442 205.8 L457.6 205.8" fill="none" stroke="#151515" stroke-width="1" />
<path d="M429.4 242.6 L429.4 218.6 L442.6 207.2 L457.6 207.2" fill="none" stroke="#151515" stroke-width="0.5" />
<circle cx="448" cy="232.6" r="1.3" fill="none" stroke="#151515" stroke-width="0.6"/>
<line x1="429.4" y1="219" x2="447" y2="231.8" stroke="#151515" stroke-width="0.5"/>
<line x1="456.8" y1="208" x2="448.6" y2="231.4" stroke="#151515" stroke-width="0.5"/>
<line x1="430" y1="242" x2="447.2" y2="233.4" stroke="#151515" stroke-width="0.5"/>
<line x1="457" y1="242" x2="448.8" y2="233.4" stroke="#151515" stroke-width="0.5"/>
<path d="M395.6 225 L428 225" fill="none" stroke="#151515" stroke-width="0.9" />
<ellipse cx="412.6" cy="233.2" rx="7" ry="4.6" fill="none" stroke="#151515" stroke-width="0.9"/>
<ellipse cx="412.6" cy="233.6" rx="5.6" ry="3.4" fill="none" stroke="#151515" stroke-width="0.5"/>
<circle cx="412.6" cy="233.8" r="0.7" fill="#151515" stroke="#151515" stroke-width="0.2"/>
<text x="401.4" y="231.4" font-size="2.6" text-anchor="middle" fill="#222" font-weight="bold">台盆</text>
<rect x="386.2" y="247.9" width="62.1" height="17.5" fill="none" stroke="#151515" stroke-width="1.1"/>
<line x1="386.2" y1="256.6" x2="448.3" y2="256.6" stroke="#151515" stroke-width="0.8"/>
<line x1="388.8" y1="249.6" x2="388.8" y2="263.8" stroke="#151515" stroke-width="1.6"/>
<line x1="390.4" y1="249.6" x2="390.4" y2="263.8" stroke="#151515" stroke-width="0.8"/>
<line x1="398.5" y1="249.6" x2="398.5" y2="263.8" stroke="#151515" stroke-width="1.1"/>
<line x1="404.6" y1="249.6" x2="404.6" y2="263.8" stroke="#151515" stroke-width="1.1"/>
<line x1="415.7" y1="249.6" x2="415.7" y2="263.8" stroke="#151515" stroke-width="1.1"/>
<line x1="422.5" y1="249.6" x2="422.5" y2="263.8" stroke="#151515" stroke-width="1.1"/>
<line x1="429.2" y1="249.6" x2="429.2" y2="263.8" stroke="#151515" stroke-width="1.6"/>
<line x1="431.7" y1="249.6" x2="431.7" y2="263.8" stroke="#151515" stroke-width="1"/>
<line x1="444" y1="249.6" x2="444" y2="263.8" stroke="#151515" stroke-width="1.6"/>
<line x1="446.3" y1="249.6" x2="446.3" y2="263.8" stroke="#151515" stroke-width="1"/>
<line x1="392.6" y1="262.6" x2="398.5" y2="250.6" stroke="#151515" stroke-width="1.1"/>
<line x1="400" y1="262.6" x2="404.6" y2="250.6" stroke="#151515" stroke-width="1.1"/>
<line x1="406.4" y1="250.6" x2="415" y2="262.6" stroke="#151515" stroke-width="1.1"/>
<line x1="416.8" y1="250.6" x2="422.5" y2="262.6" stroke="#151515" stroke-width="1.1"/>
<line x1="434.6" y1="250.6" x2="441.6" y2="262.6" stroke="#151515" stroke-width="1.1"/>
<rect x="376" y="277.5" width="38.5" height="53.9" fill="none" stroke="#0e0e0e" stroke-width="3" rx="2.6"/>
<line x1="386.5" y1="277.3" x2="406" y2="277.3" stroke="#7a7a7a" stroke-width="1" stroke-dasharray="1 1.6 0.6 2.2"/>
<line x1="384.5" y1="331.6" x2="404" y2="331.6" stroke="#7a7a7a" stroke-width="1" stroke-dasharray="1 1.6 0.6 2.2"/>
<line x1="375.8" y1="288" x2="375.8" y2="322.9" stroke="#6a6a6a" stroke-width="0.8" stroke-dasharray="0.7 2.6"/>
<line x1="414.7" y1="286" x2="414.7" y2="320.9" stroke="#6a6a6a" stroke-width="0.8" stroke-dasharray="0.7 2.6"/>
<rect x="379.4" y="280.9" width="31.7" height="47.1" fill="url(#sw)" stroke="#101010" stroke-width="1"/>
<rect x="436.5" y="278" width="12" height="16.8" fill="url(#hat)" stroke="#151515" stroke-width="0.9"/>
<path d="M442.5 283.4 L445 286.4 L442.5 289.4 L440 286.4 Z" fill="#0a0a0a" stroke="#151515" stroke-width="0.4" />
<rect x="436.5" y="349" width="12" height="16.5" fill="url(#hat)" stroke="#151515" stroke-width="0.9"/>
<path d="M442.5 354.25 L445 357.25 L442.5 360.25 L440 357.25 Z" fill="#0a0a0a" stroke="#151515" stroke-width="0.4" />
<rect x="388.9" y="295.5" width="59.1" height="52.7" fill="#9b9b9b" stroke="#151515" stroke-width="1"/>
<path d="M432.9 302 Q439.25 303.3 445.6 302 Q444.3 311.4 445.6 320.8 Q439.25 319.5 432.9 320.8 Q434.2 311.4 432.9 302 Z" fill="none" stroke="#151515" stroke-width="0.9" />
<rect x="434.6" y="304" width="9.3" height="14.8" fill="none" stroke="#333" stroke-width="0.5"/>
<path d="M432.9 326.5 Q439.25 327.8 445.6 326.5 Q444.3 335.85 445.6 345.2 Q439.25 343.9 432.9 345.2 Q434.2 335.85 432.9 326.5 Z" fill="none" stroke="#151515" stroke-width="0.9" />
<rect x="434.6" y="328.5" width="9.3" height="14.7" fill="none" stroke="#333" stroke-width="0.5"/>
<path d="M429.3 297 L406.2 341 L409.6 344.4 L414 346 L429 302" fill="none" stroke="#151515" stroke-width="0.9" />
<path d="M429.3 297 L413.4 336 L414 346" fill="none" stroke="#151515" stroke-width="0.6" />
<line x1="421.2" y1="322" x2="421.2" y2="348.2" stroke="#151515" stroke-width="1.6"/>
<line x1="423.6" y1="325" x2="423.6" y2="348.2" stroke="#151515" stroke-width="0.6"/>
<line x1="414.2" y1="339" x2="433" y2="339" stroke="#151515" stroke-width="1.8"/>
<text x="409.6" y="328" font-size="8.2" text-anchor="middle" fill="#141414" textLength="16.6" lengthAdjust="spacingAndGlyphs" font-weight="bold">卧房</text>
<text x="405.6" y="310.2" font-size="3" text-anchor="middle" fill="#222" textLength="19" lengthAdjust="spacingAndGlyphs" font-weight="bold">1800*2000床</text>
<g transform="translate(425.7 358) scale(-0.99 1)">
<path d="M4.5 -0.6 C1.2 -0.6 0 1.8 0 5 V17 C0 20 2 21.5 5 21.5 H35 C37 21.5 38 20.6 38 18.6 V9.6 C38 8 37.2 7.3 35.4 6.9 L7 -0.4 Z" fill="none" stroke="#151515" stroke-width="1.7" />
<path d="M5.2 3 C4.4 8 4.6 12 5.6 14.8 C6.2 16.6 8 17 10 17 H25.6 L28.4 19.6" fill="none" stroke="#151515" stroke-width="1.25" />
<path d="M6.6 3.6 C8.2 7.6 9 10.6 9.4 14.2" fill="none" stroke="#151515" stroke-width="0.7" />
<ellipse cx="17" cy="13.8" rx="4.2" ry="1.1" fill="none" stroke="#151515" stroke-width="0.8" transform="rotate(-8 17 13.8)"/>
<path d="M9.6 14.6 C11.5 15.4 13 15.2 14 14.6" fill="none" stroke="#151515" stroke-width="0.7" />
</g>
<rect x="375.8" y="363.6" width="10" height="14.4" fill="none" stroke="#151515" stroke-width="1.5" rx="2.6"/>
<text x="397.4" y="366.6" font-size="2.6" text-anchor="middle" fill="#222" font-weight="bold">贵妃椅</text>
<circle cx="584.4" cy="35.1" r="17.3" fill="none" stroke="#151515" stroke-width="0.8"/>
<circle cx="584.4" cy="35.1" r="15.8" fill="none" stroke="#151515" stroke-width="0.7"/>
<circle cx="584.4" cy="35.1" r="14.4" fill="none" stroke="#151515" stroke-width="0.5"/>
<path d="M584.4 35.1 L595.43 24.07 L584.4 31.28 Z" fill="#0d0d0d" stroke="#151515" stroke-width="0.5" />
<path d="M584.4 35.1 L595.43 24.07 L588.22 35.1 Z" fill="#3c3c3c" stroke="#151515" stroke-width="0.5" />
<path d="M584.4 35.1 L595.43 46.13 L588.22 35.1 Z" fill="#0d0d0d" stroke="#151515" stroke-width="0.5" />
<path d="M584.4 35.1 L595.43 46.13 L584.4 38.92 Z" fill="#3c3c3c" stroke="#151515" stroke-width="0.5" />
<path d="M584.4 35.1 L573.37 46.13 L584.4 38.92 Z" fill="#0d0d0d" stroke="#151515" stroke-width="0.5" />
<path d="M584.4 35.1 L573.37 46.13 L580.58 35.1 Z" fill="#3c3c3c" stroke="#151515" stroke-width="0.5" />
<path d="M584.4 35.1 L573.37 24.07 L580.58 35.1 Z" fill="#0d0d0d" stroke="#151515" stroke-width="0.5" />
<path d="M584.4 35.1 L573.37 24.07 L584.4 31.28 Z" fill="#3c3c3c" stroke="#151515" stroke-width="0.5" />
<path d="M584.4 35.1 L584.4 11.3 L582.1 32.8 Z" fill="#0d0d0d" stroke="#151515" stroke-width="0.5" />
<path d="M584.4 35.1 L584.4 11.3 L586.7 32.8 Z" fill="#0d0d0d" stroke="#151515" stroke-width="0.5" />
<path d="M584.4 35.1 L608.2 35.1 L586.7 32.8 Z" fill="#0d0d0d" stroke="#151515" stroke-width="0.5" />
<path d="M584.4 35.1 L608.2 35.1 L586.7 37.4 Z" fill="#0d0d0d" stroke="#151515" stroke-width="0.5" />
<path d="M584.4 35.1 L584.4 58.9 L586.7 37.4 Z" fill="#0d0d0d" stroke="#151515" stroke-width="0.5" />
<path d="M584.4 35.1 L584.4 58.9 L582.1 37.4 Z" fill="#0d0d0d" stroke="#151515" stroke-width="0.5" />
<path d="M584.4 35.1 L560.6 35.1 L582.1 37.4 Z" fill="#0d0d0d" stroke="#151515" stroke-width="0.5" />
<path d="M584.4 35.1 L560.6 35.1 L582.1 32.8 Z" fill="#0d0d0d" stroke="#151515" stroke-width="0.5" />
<text x="584.4" y="8.6" font-size="5.2" text-anchor="middle" fill="#1a1a1a" font-weight="bold">南</text>
<text x="584.4" y="66" font-size="5.2" text-anchor="middle" fill="#1a1a1a" font-weight="bold">朱</text>
<text x="556.2" y="37" font-size="5.2" text-anchor="middle" fill="#1a1a1a" font-weight="bold">东</text>
<text x="613.6" y="37" font-size="5.2" text-anchor="middle" fill="#1a1a1a" font-weight="bold">北</text>
<rect x="479.2" y="426.5" width="154.2" height="50.3" fill="#ffffff"/>
<text stroke="#0a0a0a" stroke-width="0.55" x="492" y="451.4" font-size="23" text-anchor="start" fill="#0a0a0a" font-weight="500" font-family=''Liberation Sans','Noto Sans CJK SC',sans-serif' letter-spacing="3.4">找图纸就上</text>
<text x="486.8" y="471.6" font-size="16.3" text-anchor="start" font-weight="bold" fill="#1414a4" textLength="140.2" lengthAdjust="spacing">Tuzhizhijia.com</text>
<line x1="476.6" y1="446.4" x2="479.2" y2="444.8" stroke="#e02828" stroke-width="1.2"/>
<line x1="474.6" y1="467.2" x2="478.6" y2="465.8" stroke="#28c040" stroke-width="1.2"/>
<line x1="516.4" y1="424.6" x2="518" y2="422.6" stroke="#6fd23c" stroke-width="1.2"/>
<text x="567.8" y="491.9" font-size="12.2" text-anchor="middle" fill="#0f0f0f" textLength="91" lengthAdjust="spacingAndGlyphs" font-weight="500">二层平面布置图</text>
<line x1="517" y1="494.7" x2="608.6" y2="494.7" stroke="#151515" stroke-width="0.7"/>
<line x1="517" y1="496.9" x2="608.6" y2="496.9" stroke="#1a1a1a" stroke-width="1.9"/>
<text x="546.5" y="506.5" font-size="8.4" text-anchor="middle" fill="#0f0f0f" textLength="48.4" lengthAdjust="spacingAndGlyphs" font-weight="bold">PLAN 1:90</text>
</svg>
</body></html>
